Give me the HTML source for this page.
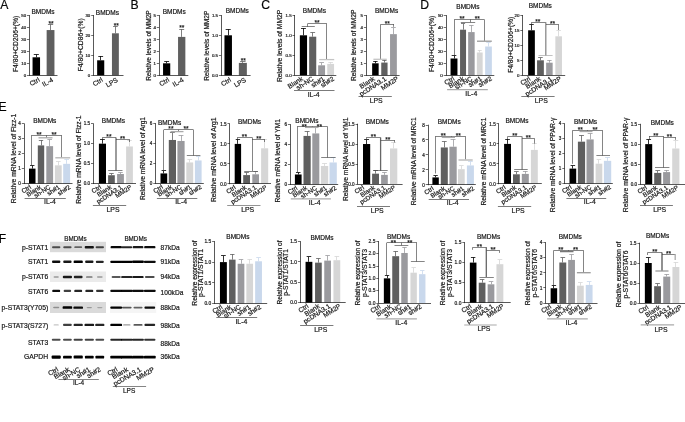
<!DOCTYPE html>
<html lang="en"><head><meta charset="utf-8"><title>Figure</title>
<style>
html,body{margin:0;padding:0;background:#fff;}
body{width:685px;height:422px;overflow:hidden;}
svg{display:block;font-family:"Liberation Sans",Arial,sans-serif;}
svg text{font-family:"Liberation Sans",Arial,sans-serif;stroke:#222;stroke-width:0.2px;}
</style></head><body>
<svg width="685" height="422" viewBox="0 0 685 422">
<defs><filter id="bl" x="-20%" y="-50%" width="140%" height="200%"><feGaussianBlur stdDeviation="0.6 0.45"/></filter></defs>
<rect width="685" height="422" fill="#fff"/>
<text x="0.2" y="8.8" font-size="12.2" text-anchor="start" fill="#000">A</text>
<text x="130.4" y="8.5" font-size="12.2" text-anchor="start" fill="#000">B</text>
<text x="261.3" y="8.8" font-size="12.2" text-anchor="start" fill="#000">C</text>
<text x="420.3" y="8.8" font-size="12.2" text-anchor="start" fill="#000">D</text>
<text x="-1.6" y="110.7" font-size="12.2" text-anchor="start" fill="#000">E</text>
<text x="-1.2" y="242.7" font-size="12.2" text-anchor="start" fill="#000">F</text>
<rect x="32.55" y="57.3" width="7.5" height="18" fill="#000"/>
<line x1="36.5" y1="57.3" x2="36.5" y2="54.54" stroke="#000" stroke-width="0.8"/>
<line x1="33.75" y1="54.5" x2="38.85" y2="54.5" stroke="#000" stroke-width="0.8"/>
<rect x="46.65" y="30.06" width="7.8" height="45.24" fill="#5f5f5f"/>
<line x1="50.5" y1="30.06" x2="50.5" y2="24.42" stroke="#5f5f5f" stroke-width="0.8"/>
<line x1="47.9" y1="24.5" x2="53.2" y2="24.5" stroke="#5f5f5f" stroke-width="0.8"/>
<line x1="29.5" y1="15" x2="29.5" y2="75.6" stroke="#111" stroke-width="0.7"/>
<line x1="29" y1="75.5" x2="57.5" y2="75.5" stroke="#111" stroke-width="0.7"/>
<line x1="27" y1="75.5" x2="29.3" y2="75.5" stroke="#111" stroke-width="0.6"/>
<text x="26.1" y="76.88" font-size="4.4" text-anchor="end" fill="#111" stroke-width="0.3">0</text>
<line x1="27" y1="63.5" x2="29.3" y2="63.5" stroke="#111" stroke-width="0.6"/>
<text x="26.1" y="64.88" font-size="4.4" text-anchor="end" fill="#111" stroke-width="0.3">10</text>
<line x1="27" y1="51.5" x2="29.3" y2="51.5" stroke="#111" stroke-width="0.6"/>
<text x="26.1" y="52.88" font-size="4.4" text-anchor="end" fill="#111" stroke-width="0.3">20</text>
<line x1="27" y1="39.5" x2="29.3" y2="39.5" stroke="#111" stroke-width="0.6"/>
<text x="26.1" y="40.88" font-size="4.4" text-anchor="end" fill="#111" stroke-width="0.3">30</text>
<line x1="27" y1="27.5" x2="29.3" y2="27.5" stroke="#111" stroke-width="0.6"/>
<text x="26.1" y="28.88" font-size="4.4" text-anchor="end" fill="#111" stroke-width="0.3">40</text>
<line x1="27" y1="15.5" x2="29.3" y2="15.5" stroke="#111" stroke-width="0.6"/>
<text x="26.1" y="16.88" font-size="4.4" text-anchor="end" fill="#111" stroke-width="0.3">50</text>
<text x="43" y="13.8" font-size="6.5" text-anchor="middle" fill="#111">BMDMs</text>
<text x="17.68" y="43.9" font-size="6.6" text-anchor="middle" fill="#111" transform="rotate(-90 17.68 43.9)" textLength="56.2" lengthAdjust="spacingAndGlyphs">F4/80+CD206+(%)</text>
<text x="40.2" y="81.1" font-size="6.7" text-anchor="end" fill="#111" transform="rotate(-30 40.2 81.1)">Ctrl</text>
<text x="53.8" y="81.1" font-size="6.7" text-anchor="end" fill="#111" transform="rotate(-30 53.8 81.1)">IL-4</text>
<text x="51" y="26.1" font-size="6.6" text-anchor="middle" fill="#111" stroke="#111" stroke-width="0.25">**</text>
<rect x="97.15" y="60.3" width="7.1" height="15" fill="#000"/>
<line x1="100.5" y1="60.3" x2="100.5" y2="56.1" stroke="#000" stroke-width="0.8"/>
<line x1="98.29" y1="56.5" x2="103.11" y2="56.5" stroke="#000" stroke-width="0.8"/>
<rect x="111.95" y="33.3" width="6.9" height="42" fill="#5f5f5f"/>
<line x1="115.5" y1="33.3" x2="115.5" y2="26.3" stroke="#5f5f5f" stroke-width="0.8"/>
<line x1="113.05" y1="26.5" x2="117.75" y2="26.5" stroke="#5f5f5f" stroke-width="0.8"/>
<line x1="93.5" y1="15" x2="93.5" y2="75.6" stroke="#111" stroke-width="0.7"/>
<line x1="93.2" y1="75.5" x2="123.5" y2="75.5" stroke="#111" stroke-width="0.7"/>
<line x1="91.2" y1="75.5" x2="93.5" y2="75.5" stroke="#111" stroke-width="0.6"/>
<text x="90.3" y="76.88" font-size="4.4" text-anchor="end" fill="#111" stroke-width="0.3">0</text>
<line x1="91.2" y1="55.5" x2="93.5" y2="55.5" stroke="#111" stroke-width="0.6"/>
<text x="90.3" y="56.88" font-size="4.4" text-anchor="end" fill="#111" stroke-width="0.3">10</text>
<line x1="91.2" y1="35.5" x2="93.5" y2="35.5" stroke="#111" stroke-width="0.6"/>
<text x="90.3" y="36.88" font-size="4.4" text-anchor="end" fill="#111" stroke-width="0.3">20</text>
<line x1="91.2" y1="15.5" x2="93.5" y2="15.5" stroke="#111" stroke-width="0.6"/>
<text x="90.3" y="16.88" font-size="4.4" text-anchor="end" fill="#111" stroke-width="0.3">30</text>
<text x="107.4" y="15.2" font-size="6.5" text-anchor="middle" fill="#111">BMDMs</text>
<text x="83.38" y="44.8" font-size="6.6" text-anchor="middle" fill="#111" transform="rotate(-90 83.38 44.8)" textLength="52.9" lengthAdjust="spacingAndGlyphs">F4/80+CD86+(%)</text>
<text x="103.4" y="81.1" font-size="6.7" text-anchor="end" fill="#111" transform="rotate(-31 103.4 81.1)">Ctrl</text>
<text x="118.4" y="81.1" font-size="6.7" text-anchor="end" fill="#111" transform="rotate(-31 118.4 81.1)">LPS</text>
<text x="116.2" y="28.3" font-size="6.6" text-anchor="middle" fill="#111" stroke="#111" stroke-width="0.25">**</text>
<rect x="163.05" y="63.3" width="7.2" height="12" fill="#000"/>
<line x1="166.5" y1="63.3" x2="166.5" y2="61.62" stroke="#000" stroke-width="0.8"/>
<line x1="164.2" y1="61.5" x2="169.1" y2="61.5" stroke="#000" stroke-width="0.8"/>
<rect x="178.05" y="36.9" width="7.3" height="38.4" fill="#5f5f5f"/>
<line x1="181.5" y1="36.9" x2="181.5" y2="29.1" stroke="#5f5f5f" stroke-width="0.8"/>
<line x1="179.22" y1="29.5" x2="184.18" y2="29.5" stroke="#5f5f5f" stroke-width="0.8"/>
<line x1="159.5" y1="15" x2="159.5" y2="75.6" stroke="#111" stroke-width="0.7"/>
<line x1="158.8" y1="75.5" x2="188.3" y2="75.5" stroke="#111" stroke-width="0.7"/>
<line x1="156.8" y1="75.5" x2="159.1" y2="75.5" stroke="#111" stroke-width="0.6"/>
<text x="155.9" y="76.88" font-size="4.4" text-anchor="end" fill="#111" stroke-width="0.3">0</text>
<line x1="156.8" y1="63.5" x2="159.1" y2="63.5" stroke="#111" stroke-width="0.6"/>
<text x="155.9" y="64.88" font-size="4.4" text-anchor="end" fill="#111" stroke-width="0.3">1</text>
<line x1="156.8" y1="51.5" x2="159.1" y2="51.5" stroke="#111" stroke-width="0.6"/>
<text x="155.9" y="52.88" font-size="4.4" text-anchor="end" fill="#111" stroke-width="0.3">2</text>
<line x1="156.8" y1="39.5" x2="159.1" y2="39.5" stroke="#111" stroke-width="0.6"/>
<text x="155.9" y="40.88" font-size="4.4" text-anchor="end" fill="#111" stroke-width="0.3">3</text>
<line x1="156.8" y1="27.5" x2="159.1" y2="27.5" stroke="#111" stroke-width="0.6"/>
<text x="155.9" y="28.88" font-size="4.4" text-anchor="end" fill="#111" stroke-width="0.3">4</text>
<line x1="156.8" y1="15.5" x2="159.1" y2="15.5" stroke="#111" stroke-width="0.6"/>
<text x="155.9" y="16.88" font-size="4.4" text-anchor="end" fill="#111" stroke-width="0.3">5</text>
<text x="174.2" y="13.5" font-size="6.5" text-anchor="middle" fill="#111">BMDMs</text>
<text x="150.64" y="45.55" font-size="6.5" text-anchor="middle" fill="#111" transform="rotate(-90 150.64 45.55)" textLength="70.5" lengthAdjust="spacingAndGlyphs">Relative levels of MM2P</text>
<text x="169.9" y="81.1" font-size="6.7" text-anchor="end" fill="#111" transform="rotate(-31 169.9 81.1)">Ctrl</text>
<text x="184.2" y="81.1" font-size="6.7" text-anchor="end" fill="#111" transform="rotate(-31 184.2 81.1)">IL-4</text>
<text x="181.8" y="30.1" font-size="6.6" text-anchor="middle" fill="#111" stroke="#111" stroke-width="0.25">**</text>
<rect x="224.45" y="35.3" width="7.5" height="40" fill="#000"/>
<line x1="228.5" y1="35.3" x2="228.5" y2="29.3" stroke="#000" stroke-width="0.8"/>
<line x1="225.65" y1="29.5" x2="230.75" y2="29.5" stroke="#000" stroke-width="0.8"/>
<rect x="238.85" y="62.9" width="8" height="12.4" fill="#5f5f5f"/>
<line x1="242.5" y1="62.9" x2="242.5" y2="61.5" stroke="#5f5f5f" stroke-width="0.8"/>
<line x1="240.13" y1="61.5" x2="245.57" y2="61.5" stroke="#5f5f5f" stroke-width="0.8"/>
<line x1="221.5" y1="15" x2="221.5" y2="75.6" stroke="#111" stroke-width="0.7"/>
<line x1="220.9" y1="75.5" x2="250.6" y2="75.5" stroke="#111" stroke-width="0.7"/>
<line x1="218.9" y1="75.5" x2="221.2" y2="75.5" stroke="#111" stroke-width="0.6"/>
<text x="218" y="76.88" font-size="4.4" text-anchor="end" fill="#111" stroke-width="0.3">0.0</text>
<line x1="218.9" y1="55.5" x2="221.2" y2="55.5" stroke="#111" stroke-width="0.6"/>
<text x="218" y="56.88" font-size="4.4" text-anchor="end" fill="#111" stroke-width="0.3">0.5</text>
<line x1="218.9" y1="35.5" x2="221.2" y2="35.5" stroke="#111" stroke-width="0.6"/>
<text x="218" y="36.88" font-size="4.4" text-anchor="end" fill="#111" stroke-width="0.3">1.0</text>
<line x1="218.9" y1="15.5" x2="221.2" y2="15.5" stroke="#111" stroke-width="0.6"/>
<text x="218" y="16.88" font-size="4.4" text-anchor="end" fill="#111" stroke-width="0.3">1.5</text>
<text x="237.3" y="13.4" font-size="6.5" text-anchor="middle" fill="#111">BMDMs</text>
<text x="208.54" y="45.75" font-size="6.5" text-anchor="middle" fill="#111" transform="rotate(-90 208.54 45.75)" textLength="70.1" lengthAdjust="spacingAndGlyphs">Relative levels of MM2P</text>
<text x="231.6" y="81.1" font-size="6.7" text-anchor="end" fill="#111" transform="rotate(-31 231.6 81.1)">Ctrl</text>
<text x="246.6" y="81.1" font-size="6.7" text-anchor="end" fill="#111" transform="rotate(-31 246.6 81.1)">LPS</text>
<text x="243.2" y="62.8" font-size="6.6" text-anchor="middle" fill="#111" stroke="#111" stroke-width="0.25">**</text>
<rect x="299.85" y="35.3" width="7.2" height="40" fill="#000"/>
<line x1="303.5" y1="35.3" x2="303.5" y2="28.1" stroke="#000" stroke-width="0.8"/>
<line x1="301" y1="28.5" x2="305.9" y2="28.5" stroke="#000" stroke-width="0.8"/>
<rect x="309.15" y="36.7" width="7.1" height="38.6" fill="#5f5f5f"/>
<line x1="312.5" y1="36.7" x2="312.5" y2="32.5" stroke="#5f5f5f" stroke-width="0.8"/>
<line x1="310.29" y1="32.5" x2="315.11" y2="32.5" stroke="#5f5f5f" stroke-width="0.8"/>
<rect x="318.15" y="65.3" width="6.9" height="10" fill="#9a9a9e"/>
<line x1="321.5" y1="65.3" x2="321.5" y2="62.9" stroke="#9a9a9e" stroke-width="0.8"/>
<line x1="319.25" y1="62.5" x2="323.95" y2="62.5" stroke="#9a9a9e" stroke-width="0.8"/>
<rect x="327.25" y="63.9" width="6.8" height="11.4" fill="#d6d6d6"/>
<line x1="330.5" y1="63.9" x2="330.5" y2="62.1" stroke="#d6d6d6" stroke-width="0.8"/>
<line x1="328.34" y1="62.5" x2="332.96" y2="62.5" stroke="#d6d6d6" stroke-width="0.8"/>
<line x1="294.5" y1="15" x2="294.5" y2="75.6" stroke="#111" stroke-width="0.7"/>
<line x1="294.5" y1="75.5" x2="336.3" y2="75.5" stroke="#111" stroke-width="0.7"/>
<line x1="292.5" y1="75.5" x2="294.8" y2="75.5" stroke="#111" stroke-width="0.6"/>
<text x="291.6" y="76.88" font-size="4.4" text-anchor="end" fill="#111" stroke-width="0.3">0.0</text>
<line x1="292.5" y1="55.5" x2="294.8" y2="55.5" stroke="#111" stroke-width="0.6"/>
<text x="291.6" y="56.88" font-size="4.4" text-anchor="end" fill="#111" stroke-width="0.3">0.5</text>
<line x1="292.5" y1="35.5" x2="294.8" y2="35.5" stroke="#111" stroke-width="0.6"/>
<text x="291.6" y="36.88" font-size="4.4" text-anchor="end" fill="#111" stroke-width="0.3">1.0</text>
<line x1="292.5" y1="15.5" x2="294.8" y2="15.5" stroke="#111" stroke-width="0.6"/>
<text x="291.6" y="16.88" font-size="4.4" text-anchor="end" fill="#111" stroke-width="0.3">1.5</text>
<text x="314.4" y="13.3" font-size="6.5" text-anchor="middle" fill="#111">BMDMs</text>
<text x="281.64" y="45.85" font-size="6.5" text-anchor="middle" fill="#111" transform="rotate(-90 281.64 45.85)" textLength="72.3" lengthAdjust="spacingAndGlyphs">Relative levels of MM2P</text>
<text x="303.5" y="79.9" font-size="6.7" text-anchor="end" fill="#111" transform="rotate(-33 303.5 79.9)">Blank</text>
<text x="314" y="79.9" font-size="6.7" text-anchor="end" fill="#111" transform="rotate(-33 314 79.9)">sh-NC</text>
<text x="325.2" y="79.9" font-size="6.7" text-anchor="end" fill="#111" transform="rotate(-33 325.2 79.9)">sh#1</text>
<text x="334.6" y="79.9" font-size="6.7" text-anchor="end" fill="#111" transform="rotate(-33 334.6 79.9)">sh#2</text>
<line x1="294" y1="90.5" x2="334.5" y2="90.5" stroke="#222" stroke-width="0.6"/>
<text x="313.6" y="96.5" font-size="6.9" text-anchor="middle" fill="#111">IL-4</text>
<line x1="307.8" y1="23.5" x2="326.7" y2="23.5" stroke="#333" stroke-width="0.6"/>
<text x="317" y="24.8" font-size="6.6" text-anchor="middle" fill="#111" stroke="#111" stroke-width="0.25">**</text>
<line x1="307.5" y1="23.5" x2="307.5" y2="26.6" stroke="#333" stroke-width="0.6"/>
<line x1="301.7" y1="26.5" x2="314.8" y2="26.5" stroke="#333" stroke-width="0.6"/>
<line x1="326.5" y1="23.5" x2="326.5" y2="59.6" stroke="#333" stroke-width="0.6"/>
<line x1="319.2" y1="59.6" x2="334.2" y2="59.6" stroke="#c4c4c4" stroke-width="1.3"/>
<rect x="372.15" y="63.3" width="6.5" height="12" fill="#000"/>
<line x1="375.5" y1="63.3" x2="375.5" y2="61.14" stroke="#000" stroke-width="0.8"/>
<line x1="373.19" y1="61.5" x2="377.61" y2="61.5" stroke="#000" stroke-width="0.8"/>
<rect x="381.25" y="62.58" width="6.3" height="12.72" fill="#5f5f5f"/>
<line x1="384.5" y1="62.58" x2="384.5" y2="60.06" stroke="#5f5f5f" stroke-width="0.8"/>
<line x1="382.26" y1="60.5" x2="386.54" y2="60.5" stroke="#5f5f5f" stroke-width="0.8"/>
<rect x="390.05" y="34.14" width="6.8" height="41.16" fill="#9a9a9e"/>
<line x1="393.5" y1="34.14" x2="393.5" y2="27.66" stroke="#9a9a9e" stroke-width="0.8"/>
<line x1="391.14" y1="27.5" x2="395.76" y2="27.5" stroke="#9a9a9e" stroke-width="0.8"/>
<line x1="366.5" y1="15" x2="366.5" y2="75.6" stroke="#111" stroke-width="0.7"/>
<line x1="365.9" y1="75.5" x2="399.6" y2="75.5" stroke="#111" stroke-width="0.7"/>
<line x1="363.9" y1="75.5" x2="366.2" y2="75.5" stroke="#111" stroke-width="0.6"/>
<text x="363" y="76.88" font-size="4.4" text-anchor="end" fill="#111" stroke-width="0.3">0</text>
<line x1="363.9" y1="63.5" x2="366.2" y2="63.5" stroke="#111" stroke-width="0.6"/>
<text x="363" y="64.88" font-size="4.4" text-anchor="end" fill="#111" stroke-width="0.3">1</text>
<line x1="363.9" y1="51.5" x2="366.2" y2="51.5" stroke="#111" stroke-width="0.6"/>
<text x="363" y="52.88" font-size="4.4" text-anchor="end" fill="#111" stroke-width="0.3">2</text>
<line x1="363.9" y1="39.5" x2="366.2" y2="39.5" stroke="#111" stroke-width="0.6"/>
<text x="363" y="40.88" font-size="4.4" text-anchor="end" fill="#111" stroke-width="0.3">3</text>
<line x1="363.9" y1="27.5" x2="366.2" y2="27.5" stroke="#111" stroke-width="0.6"/>
<text x="363" y="28.88" font-size="4.4" text-anchor="end" fill="#111" stroke-width="0.3">4</text>
<line x1="363.9" y1="15.5" x2="366.2" y2="15.5" stroke="#111" stroke-width="0.6"/>
<text x="363" y="16.88" font-size="4.4" text-anchor="end" fill="#111" stroke-width="0.3">5</text>
<text x="386.6" y="13.3" font-size="6.5" text-anchor="middle" fill="#111">BMDMs</text>
<text x="355.84" y="45.3" font-size="6.5" text-anchor="middle" fill="#111" transform="rotate(-90 355.84 45.3)" textLength="71.4" lengthAdjust="spacingAndGlyphs">Relative levels of MM2P</text>
<text x="375.4" y="79.9" font-size="6.7" text-anchor="end" fill="#111" transform="rotate(-33 375.4 79.9)">Blank</text>
<text x="386.8" y="79.9" font-size="6.7" text-anchor="end" fill="#111" transform="rotate(-33 386.8 79.9)">pcDNA3.1</text>
<text x="399" y="79.9" font-size="6.7" text-anchor="end" fill="#111" transform="rotate(-33 399 79.9)">MM2P</text>
<line x1="358.5" y1="96.5" x2="391.8" y2="96.5" stroke="#222" stroke-width="0.6"/>
<text x="376.2" y="103.3" font-size="6.9" text-anchor="middle" fill="#111">LPS</text>
<line x1="380.9" y1="24.5" x2="393.9" y2="24.5" stroke="#333" stroke-width="0.6"/>
<text x="387.2" y="25.8" font-size="6.6" text-anchor="middle" fill="#111" stroke="#111" stroke-width="0.25">**</text>
<line x1="380.5" y1="24.2" x2="380.5" y2="59.4" stroke="#333" stroke-width="0.6"/>
<line x1="373.4" y1="59.3" x2="386.8" y2="59.3" stroke="#c4c4c4" stroke-width="1.3"/>
<line x1="393.5" y1="24.2" x2="393.5" y2="26.8" stroke="#333" stroke-width="0.6"/>
<rect x="450.55" y="58.5" width="6.9" height="16.8" fill="#000"/>
<line x1="454.5" y1="58.5" x2="454.5" y2="55.5" stroke="#000" stroke-width="0.8"/>
<line x1="451.65" y1="55.5" x2="456.35" y2="55.5" stroke="#000" stroke-width="0.8"/>
<rect x="460.05" y="29.7" width="6" height="45.6" fill="#5f5f5f"/>
<line x1="463.5" y1="29.7" x2="463.5" y2="23.7" stroke="#5f5f5f" stroke-width="0.8"/>
<line x1="461.01" y1="23.5" x2="465.09" y2="23.5" stroke="#5f5f5f" stroke-width="0.8"/>
<rect x="468.15" y="32.1" width="6.5" height="43.2" fill="#9a9a9e"/>
<line x1="471.5" y1="32.1" x2="471.5" y2="25.5" stroke="#9a9a9e" stroke-width="0.8"/>
<line x1="469.19" y1="25.5" x2="473.61" y2="25.5" stroke="#9a9a9e" stroke-width="0.8"/>
<rect x="476.85" y="52.5" width="5.8" height="22.8" fill="#d6d6d6"/>
<line x1="479.5" y1="52.5" x2="479.5" y2="50.1" stroke="#d6d6d6" stroke-width="0.8"/>
<line x1="477.78" y1="50.5" x2="481.72" y2="50.5" stroke="#d6d6d6" stroke-width="0.8"/>
<rect x="485.15" y="46.5" width="6.7" height="28.8" fill="#c9d8ec"/>
<line x1="488.5" y1="46.5" x2="488.5" y2="42.54" stroke="#c9d8ec" stroke-width="0.8"/>
<line x1="486.22" y1="42.5" x2="490.78" y2="42.5" stroke="#c9d8ec" stroke-width="0.8"/>
<line x1="446.5" y1="15" x2="446.5" y2="75.6" stroke="#111" stroke-width="0.7"/>
<line x1="445.7" y1="75.5" x2="494.3" y2="75.5" stroke="#111" stroke-width="0.7"/>
<line x1="443.7" y1="75.5" x2="446" y2="75.5" stroke="#111" stroke-width="0.6"/>
<text x="442.8" y="76.88" font-size="4.4" text-anchor="end" fill="#111" stroke-width="0.3">0</text>
<line x1="443.7" y1="63.5" x2="446" y2="63.5" stroke="#111" stroke-width="0.6"/>
<text x="442.8" y="64.88" font-size="4.4" text-anchor="end" fill="#111" stroke-width="0.3">10</text>
<line x1="443.7" y1="51.5" x2="446" y2="51.5" stroke="#111" stroke-width="0.6"/>
<text x="442.8" y="52.88" font-size="4.4" text-anchor="end" fill="#111" stroke-width="0.3">20</text>
<line x1="443.7" y1="39.5" x2="446" y2="39.5" stroke="#111" stroke-width="0.6"/>
<text x="442.8" y="40.88" font-size="4.4" text-anchor="end" fill="#111" stroke-width="0.3">30</text>
<line x1="443.7" y1="27.5" x2="446" y2="27.5" stroke="#111" stroke-width="0.6"/>
<text x="442.8" y="28.88" font-size="4.4" text-anchor="end" fill="#111" stroke-width="0.3">40</text>
<line x1="443.7" y1="15.5" x2="446" y2="15.5" stroke="#111" stroke-width="0.6"/>
<text x="442.8" y="16.88" font-size="4.4" text-anchor="end" fill="#111" stroke-width="0.3">50</text>
<text x="467.9" y="8.8" font-size="6.5" text-anchor="middle" fill="#111">BMDMs</text>
<text x="433.68" y="43.85" font-size="6.6" text-anchor="middle" fill="#111" transform="rotate(-90 433.68 43.85)" textLength="56.3" lengthAdjust="spacingAndGlyphs">F4/80+CD206+(%)</text>
<text x="455" y="79.9" font-size="6.7" text-anchor="end" fill="#111" transform="rotate(-31 455 79.9)">Ctrl</text>
<text x="464.6" y="79.9" font-size="6.7" text-anchor="end" fill="#111" transform="rotate(-31 464.6 79.9)">Blank</text>
<text x="472.8" y="79.9" font-size="6.7" text-anchor="end" fill="#111" transform="rotate(-31 472.8 79.9)">sh-NC</text>
<text x="482.4" y="79.9" font-size="6.7" text-anchor="end" fill="#111" transform="rotate(-31 482.4 79.9)">sh#1</text>
<text x="492.4" y="79.9" font-size="6.7" text-anchor="end" fill="#111" transform="rotate(-31 492.4 79.9)">sh#2</text>
<line x1="447.1" y1="89.6" x2="487.8" y2="89.6" stroke="#aaa" stroke-width="1.2"/>
<text x="471.3" y="96" font-size="6.9" text-anchor="middle" fill="#111">IL-4</text>
<line x1="454.3" y1="19.5" x2="484.3" y2="19.5" stroke="#333" stroke-width="0.6"/>
<text x="462.1" y="21.3" font-size="6.6" text-anchor="middle" fill="#111" stroke="#111" stroke-width="0.25">**</text>
<text x="477.2" y="21.3" font-size="6.6" text-anchor="middle" fill="#111" stroke="#111" stroke-width="0.25">**</text>
<line x1="454.5" y1="19.5" x2="454.5" y2="55.5" stroke="#333" stroke-width="0.6"/>
<line x1="470.5" y1="19.5" x2="470.5" y2="22.2" stroke="#333" stroke-width="0.6"/>
<line x1="460.8" y1="22.5" x2="475.2" y2="22.5" stroke="#333" stroke-width="0.6"/>
<line x1="484.5" y1="19.5" x2="484.5" y2="40.9" stroke="#333" stroke-width="0.6"/>
<line x1="477" y1="41.2" x2="491.8" y2="41.2" stroke="#999" stroke-width="1.3"/>
<rect x="528.15" y="30.3" width="6.7" height="45" fill="#000"/>
<line x1="531.5" y1="30.3" x2="531.5" y2="24.3" stroke="#000" stroke-width="0.8"/>
<line x1="529.22" y1="24.5" x2="533.78" y2="24.5" stroke="#000" stroke-width="0.8"/>
<rect x="537.05" y="60.3" width="6.8" height="15" fill="#5f5f5f"/>
<line x1="540.5" y1="60.3" x2="540.5" y2="57.9" stroke="#5f5f5f" stroke-width="0.8"/>
<line x1="538.14" y1="57.5" x2="542.76" y2="57.5" stroke="#5f5f5f" stroke-width="0.8"/>
<rect x="546.15" y="62.7" width="6.5" height="12.6" fill="#9a9a9e"/>
<line x1="549.5" y1="62.7" x2="549.5" y2="60" stroke="#9a9a9e" stroke-width="0.8"/>
<line x1="547.19" y1="60.5" x2="551.61" y2="60.5" stroke="#9a9a9e" stroke-width="0.8"/>
<rect x="555.35" y="36.3" width="6.6" height="39" fill="#d6d6d6"/>
<line x1="558.5" y1="36.3" x2="558.5" y2="30.9" stroke="#d6d6d6" stroke-width="0.8"/>
<line x1="556.41" y1="30.5" x2="560.89" y2="30.5" stroke="#d6d6d6" stroke-width="0.8"/>
<line x1="522.5" y1="15" x2="522.5" y2="75.6" stroke="#111" stroke-width="0.7"/>
<line x1="522.3" y1="75.5" x2="565.2" y2="75.5" stroke="#111" stroke-width="0.7"/>
<line x1="520.3" y1="75.5" x2="522.6" y2="75.5" stroke="#111" stroke-width="0.6"/>
<text x="519.4" y="76.88" font-size="4.4" text-anchor="end" fill="#111" stroke-width="0.3">0</text>
<line x1="520.3" y1="60.5" x2="522.6" y2="60.5" stroke="#111" stroke-width="0.6"/>
<text x="519.4" y="61.88" font-size="4.4" text-anchor="end" fill="#111" stroke-width="0.3">5</text>
<line x1="520.3" y1="45.5" x2="522.6" y2="45.5" stroke="#111" stroke-width="0.6"/>
<text x="519.4" y="46.88" font-size="4.4" text-anchor="end" fill="#111" stroke-width="0.3">10</text>
<line x1="520.3" y1="30.5" x2="522.6" y2="30.5" stroke="#111" stroke-width="0.6"/>
<text x="519.4" y="31.88" font-size="4.4" text-anchor="end" fill="#111" stroke-width="0.3">15</text>
<line x1="520.3" y1="15.5" x2="522.6" y2="15.5" stroke="#111" stroke-width="0.6"/>
<text x="519.4" y="16.88" font-size="4.4" text-anchor="end" fill="#111" stroke-width="0.3">20</text>
<text x="540.3" y="8" font-size="6.5" text-anchor="middle" fill="#111">BMDMs</text>
<text x="512.78" y="44.75" font-size="6.6" text-anchor="middle" fill="#111" transform="rotate(-90 512.78 44.75)" textLength="56.1" lengthAdjust="spacingAndGlyphs">F4/80+CD206+(%)</text>
<text x="531" y="79.9" font-size="6.7" text-anchor="end" fill="#111" transform="rotate(-33 531 79.9)">Ctrl</text>
<text x="541.4" y="79.9" font-size="6.7" text-anchor="end" fill="#111" transform="rotate(-33 541.4 79.9)">Blank</text>
<text x="552.6" y="79.9" font-size="6.7" text-anchor="end" fill="#111" transform="rotate(-33 552.6 79.9)">pcDNA3.1</text>
<text x="561.9" y="79.9" font-size="6.7" text-anchor="end" fill="#111" transform="rotate(-33 561.9 79.9)">MM2P</text>
<line x1="521.3" y1="96.5" x2="554.6" y2="96.5" stroke="#222" stroke-width="0.6"/>
<text x="541.3" y="102.5" font-size="6.9" text-anchor="middle" fill="#111">LPS</text>
<line x1="531.7" y1="22.5" x2="546" y2="22.5" stroke="#333" stroke-width="0.6"/>
<text x="537.7" y="23.9" font-size="6.6" text-anchor="middle" fill="#111" stroke="#111" stroke-width="0.25">**</text>
<line x1="531.5" y1="22.2" x2="531.5" y2="24.8" stroke="#333" stroke-width="0.6"/>
<line x1="545.8" y1="22.2" x2="545.8" y2="55.5" stroke="#8a8a8a" stroke-width="1.3"/>
<line x1="538.5" y1="55.5" x2="552.6" y2="55.5" stroke="#999" stroke-width="0.6"/>
<line x1="546" y1="24.5" x2="558.5" y2="24.5" stroke="#333" stroke-width="0.6"/>
<text x="552.5" y="26.1" font-size="6.6" text-anchor="middle" fill="#111" stroke="#111" stroke-width="0.25">**</text>
<line x1="558.5" y1="24.2" x2="558.5" y2="30" stroke="#333" stroke-width="0.6"/>
<rect x="29" y="168.62" width="6.5" height="14.97" fill="#000"/>
<line x1="32.5" y1="168.62" x2="32.5" y2="165.63" stroke="#000" stroke-width="0.8"/>
<line x1="30.04" y1="165.5" x2="34.46" y2="165.5" stroke="#000" stroke-width="0.8"/>
<rect x="37.8" y="145.41" width="6.4" height="38.19" fill="#5f5f5f"/>
<line x1="41.5" y1="145.41" x2="41.5" y2="140.17" stroke="#5f5f5f" stroke-width="0.8"/>
<line x1="38.82" y1="140.5" x2="43.18" y2="140.5" stroke="#5f5f5f" stroke-width="0.8"/>
<rect x="46.3" y="146.16" width="6.8" height="37.44" fill="#9a9a9e"/>
<line x1="49.5" y1="146.16" x2="49.5" y2="139.42" stroke="#9a9a9e" stroke-width="0.8"/>
<line x1="47.39" y1="139.5" x2="52.01" y2="139.5" stroke="#9a9a9e" stroke-width="0.8"/>
<rect x="54.9" y="165.33" width="6.8" height="18.27" fill="#d6d6d6"/>
<line x1="58.5" y1="165.33" x2="58.5" y2="161.59" stroke="#d6d6d6" stroke-width="0.8"/>
<line x1="55.99" y1="161.5" x2="60.61" y2="161.5" stroke="#d6d6d6" stroke-width="0.8"/>
<rect x="63.2" y="163.83" width="6.9" height="19.77" fill="#c9d8ec"/>
<line x1="66.5" y1="163.83" x2="66.5" y2="159.34" stroke="#c9d8ec" stroke-width="0.8"/>
<line x1="64.3" y1="159.5" x2="69" y2="159.5" stroke="#c9d8ec" stroke-width="0.8"/>
<line x1="24.5" y1="123.4" x2="24.5" y2="183.9" stroke="#111" stroke-width="0.7"/>
<line x1="23.8" y1="183.5" x2="72.5" y2="183.5" stroke="#111" stroke-width="0.7"/>
<line x1="21.8" y1="183.5" x2="24.1" y2="183.5" stroke="#111" stroke-width="0.6"/>
<text x="20.9" y="185.26" font-size="4.6" text-anchor="end" fill="#111" stroke-width="0.3">0</text>
<line x1="21.8" y1="168.5" x2="24.1" y2="168.5" stroke="#111" stroke-width="0.6"/>
<text x="20.9" y="170.28" font-size="4.6" text-anchor="end" fill="#111" stroke-width="0.3">1</text>
<line x1="21.8" y1="153.5" x2="24.1" y2="153.5" stroke="#111" stroke-width="0.6"/>
<text x="20.9" y="155.31" font-size="4.6" text-anchor="end" fill="#111" stroke-width="0.3">2</text>
<line x1="21.8" y1="138.5" x2="24.1" y2="138.5" stroke="#111" stroke-width="0.6"/>
<text x="20.9" y="140.33" font-size="4.6" text-anchor="end" fill="#111" stroke-width="0.3">3</text>
<line x1="21.8" y1="123.5" x2="24.1" y2="123.5" stroke="#111" stroke-width="0.6"/>
<text x="20.9" y="125.36" font-size="4.6" text-anchor="end" fill="#111" stroke-width="0.3">4</text>
<text x="44.8" y="123.3" font-size="6.5" text-anchor="middle" fill="#111">BMDMs</text>
<text x="16.18" y="158.4" font-size="6.6" text-anchor="middle" fill="#111" transform="rotate(-90 16.18 158.4)" textLength="89.5" lengthAdjust="spacingAndGlyphs">Relative mRNA level of Fizz-1</text>
<text x="31.6" y="188.2" font-size="6.4" text-anchor="end" fill="#111" transform="rotate(-33 31.6 188.2)">Ctrl</text>
<text x="41.6" y="188.2" font-size="6.4" text-anchor="end" fill="#111" transform="rotate(-33 41.6 188.2)">Blank</text>
<text x="50.9" y="188.2" font-size="6.4" text-anchor="end" fill="#111" transform="rotate(-33 50.9 188.2)">sh-NC</text>
<text x="60.5" y="188.2" font-size="6.4" text-anchor="end" fill="#111" transform="rotate(-33 60.5 188.2)">sh#1</text>
<text x="71" y="188.2" font-size="6.4" text-anchor="end" fill="#111" transform="rotate(-33 71 188.2)">sh#2</text>
<line x1="24.6" y1="198.5" x2="65.8" y2="198.5" stroke="#222" stroke-width="0.6"/>
<text x="50" y="204.2" font-size="6.9" text-anchor="middle" fill="#111">IL-4</text>
<line x1="31.3" y1="135.5" x2="61.8" y2="135.5" stroke="#333" stroke-width="0.6"/>
<text x="39.1" y="137.1" font-size="6.6" text-anchor="middle" fill="#111" stroke="#111" stroke-width="0.25">**</text>
<text x="54" y="137.1" font-size="6.6" text-anchor="middle" fill="#111" stroke="#111" stroke-width="0.25">**</text>
<line x1="31.5" y1="135.4" x2="31.5" y2="165.4" stroke="#333" stroke-width="0.6"/>
<line x1="46.5" y1="135.4" x2="46.5" y2="138" stroke="#333" stroke-width="0.6"/>
<line x1="38.5" y1="137.8" x2="52.5" y2="137.8" stroke="#aaa" stroke-width="1.3"/>
<line x1="61.5" y1="135.4" x2="61.5" y2="157.5" stroke="#333" stroke-width="0.6"/>
<line x1="55.3" y1="157.8" x2="70.2" y2="157.8" stroke="#b4b4b4" stroke-width="1.3"/>
<rect x="98.9" y="143.67" width="7.1" height="39.93" fill="#000"/>
<line x1="102.5" y1="143.67" x2="102.5" y2="139.27" stroke="#000" stroke-width="0.8"/>
<line x1="100.04" y1="139.5" x2="104.86" y2="139.5" stroke="#000" stroke-width="0.8"/>
<rect x="108.1" y="175.21" width="6.7" height="8.39" fill="#5f5f5f"/>
<line x1="111.5" y1="175.21" x2="111.5" y2="173.62" stroke="#5f5f5f" stroke-width="0.8"/>
<line x1="109.17" y1="173.5" x2="113.73" y2="173.5" stroke="#5f5f5f" stroke-width="0.8"/>
<rect x="117.1" y="174.02" width="6.8" height="9.58" fill="#9a9a9e"/>
<line x1="120.5" y1="174.02" x2="120.5" y2="172.42" stroke="#9a9a9e" stroke-width="0.8"/>
<line x1="118.19" y1="172.5" x2="122.81" y2="172.5" stroke="#9a9a9e" stroke-width="0.8"/>
<rect x="126.1" y="146.46" width="6.8" height="37.14" fill="#d6d6d6"/>
<line x1="129.5" y1="146.46" x2="129.5" y2="140.07" stroke="#d6d6d6" stroke-width="0.8"/>
<line x1="127.19" y1="140.5" x2="131.81" y2="140.5" stroke="#d6d6d6" stroke-width="0.8"/>
<line x1="93.5" y1="123.4" x2="93.5" y2="183.9" stroke="#111" stroke-width="0.7"/>
<line x1="93" y1="183.5" x2="136" y2="183.5" stroke="#111" stroke-width="0.7"/>
<line x1="91" y1="183.5" x2="93.3" y2="183.5" stroke="#111" stroke-width="0.6"/>
<text x="90.1" y="185.26" font-size="4.6" text-anchor="end" fill="#111" stroke-width="0.3">0.0</text>
<line x1="91" y1="163.5" x2="93.3" y2="163.5" stroke="#111" stroke-width="0.6"/>
<text x="90.1" y="165.29" font-size="4.6" text-anchor="end" fill="#111" stroke-width="0.3">0.5</text>
<line x1="91" y1="143.5" x2="93.3" y2="143.5" stroke="#111" stroke-width="0.6"/>
<text x="90.1" y="145.32" font-size="4.6" text-anchor="end" fill="#111" stroke-width="0.3">1.0</text>
<line x1="91" y1="123.5" x2="93.3" y2="123.5" stroke="#111" stroke-width="0.6"/>
<text x="90.1" y="125.36" font-size="4.6" text-anchor="end" fill="#111" stroke-width="0.3">1.5</text>
<text x="113.4" y="123.3" font-size="6.5" text-anchor="middle" fill="#111">BMDMs</text>
<text x="81.28" y="159.6" font-size="6.6" text-anchor="middle" fill="#111" transform="rotate(-90 81.28 159.6)" textLength="88.4" lengthAdjust="spacingAndGlyphs">Relative mRNA level of Fizz-1</text>
<text x="101.7" y="188.2" font-size="6.4" text-anchor="end" fill="#111" transform="rotate(-33 101.7 188.2)">Ctrl</text>
<text x="112.2" y="188.2" font-size="6.4" text-anchor="end" fill="#111" transform="rotate(-33 112.2 188.2)">Blank</text>
<text x="122.7" y="188.2" font-size="6.4" text-anchor="end" fill="#111" transform="rotate(-33 122.7 188.2)">pcDNA3.1</text>
<text x="132.4" y="188.2" font-size="6.4" text-anchor="end" fill="#111" transform="rotate(-33 132.4 188.2)">MM2P</text>
<line x1="92.9" y1="205.5" x2="126.2" y2="205.5" stroke="#222" stroke-width="0.6"/>
<text x="113" y="211.8" font-size="6.9" text-anchor="middle" fill="#111">LPS</text>
<line x1="102.4" y1="137.5" x2="116" y2="137.5" stroke="#333" stroke-width="0.6"/>
<text x="108.9" y="139.1" font-size="6.6" text-anchor="middle" fill="#111" stroke="#111" stroke-width="0.25">**</text>
<line x1="102.5" y1="137.5" x2="102.5" y2="139.3" stroke="#333" stroke-width="0.6"/>
<line x1="116" y1="137.5" x2="116" y2="170.6" stroke="#666" stroke-width="1.3"/>
<line x1="108.2" y1="170.5" x2="122.5" y2="170.5" stroke="#333" stroke-width="0.6"/>
<line x1="116" y1="139.5" x2="129.5" y2="139.5" stroke="#333" stroke-width="0.6"/>
<text x="122.5" y="141.1" font-size="6.6" text-anchor="middle" fill="#111" stroke="#111" stroke-width="0.25">**</text>
<line x1="129.5" y1="139.3" x2="129.5" y2="142" stroke="#333" stroke-width="0.6"/>
<rect x="160.5" y="173.42" width="6.7" height="9.98" fill="#000"/>
<line x1="163.5" y1="173.42" x2="163.5" y2="170.92" stroke="#000" stroke-width="0.8"/>
<line x1="161.57" y1="170.5" x2="166.13" y2="170.5" stroke="#000" stroke-width="0.8"/>
<rect x="168.8" y="139.97" width="7.2" height="43.43" fill="#5f5f5f"/>
<line x1="172.5" y1="139.97" x2="172.5" y2="132.98" stroke="#5f5f5f" stroke-width="0.8"/>
<line x1="169.95" y1="132.5" x2="174.85" y2="132.5" stroke="#5f5f5f" stroke-width="0.8"/>
<rect x="177.4" y="140.97" width="7.2" height="42.43" fill="#9a9a9e"/>
<line x1="181.5" y1="140.97" x2="181.5" y2="135.48" stroke="#9a9a9e" stroke-width="0.8"/>
<line x1="178.55" y1="135.5" x2="183.45" y2="135.5" stroke="#9a9a9e" stroke-width="0.8"/>
<rect x="186.3" y="162.44" width="6.9" height="20.97" fill="#d6d6d6"/>
<line x1="189.5" y1="162.44" x2="189.5" y2="159.44" stroke="#d6d6d6" stroke-width="0.8"/>
<line x1="187.4" y1="159.5" x2="192.1" y2="159.5" stroke="#d6d6d6" stroke-width="0.8"/>
<rect x="194.9" y="160.44" width="6.7" height="22.96" fill="#c9d8ec"/>
<line x1="198.5" y1="160.44" x2="198.5" y2="156.94" stroke="#c9d8ec" stroke-width="0.8"/>
<line x1="195.97" y1="156.5" x2="200.53" y2="156.5" stroke="#c9d8ec" stroke-width="0.8"/>
<line x1="155.5" y1="123.2" x2="155.5" y2="183.7" stroke="#111" stroke-width="0.7"/>
<line x1="155.3" y1="183.5" x2="203.8" y2="183.5" stroke="#111" stroke-width="0.7"/>
<line x1="153.3" y1="183.5" x2="155.6" y2="183.5" stroke="#111" stroke-width="0.6"/>
<text x="152.4" y="185.06" font-size="4.6" text-anchor="end" fill="#111" stroke-width="0.3">0</text>
<line x1="153.3" y1="163.5" x2="155.6" y2="163.5" stroke="#111" stroke-width="0.6"/>
<text x="152.4" y="165.09" font-size="4.6" text-anchor="end" fill="#111" stroke-width="0.3">2</text>
<line x1="153.3" y1="143.5" x2="155.6" y2="143.5" stroke="#111" stroke-width="0.6"/>
<text x="152.4" y="145.12" font-size="4.6" text-anchor="end" fill="#111" stroke-width="0.3">4</text>
<line x1="153.3" y1="123.5" x2="155.6" y2="123.5" stroke="#111" stroke-width="0.6"/>
<text x="152.4" y="125.16" font-size="4.6" text-anchor="end" fill="#111" stroke-width="0.3">6</text>
<text x="169.6" y="125" font-size="6.5" text-anchor="middle" fill="#111">BMDMs</text>
<text x="145.28" y="158.5" font-size="6.6" text-anchor="middle" fill="#111" transform="rotate(-90 145.28 158.5)" textLength="83" lengthAdjust="spacingAndGlyphs">Relative mRNA level of Arg1</text>
<text x="163.4" y="188" font-size="6.4" text-anchor="end" fill="#111" transform="rotate(-33 163.4 188)">Ctrl</text>
<text x="172.7" y="188" font-size="6.4" text-anchor="end" fill="#111" transform="rotate(-33 172.7 188)">Blank</text>
<text x="182" y="188" font-size="6.4" text-anchor="end" fill="#111" transform="rotate(-33 182 188)">sh-NC</text>
<text x="192" y="188" font-size="6.4" text-anchor="end" fill="#111" transform="rotate(-33 192 188)">sh#1</text>
<text x="202.2" y="188" font-size="6.4" text-anchor="end" fill="#111" transform="rotate(-33 202.2 188)">sh#2</text>
<line x1="156.9" y1="198.5" x2="197.3" y2="198.5" stroke="#222" stroke-width="0.6"/>
<text x="181.1" y="204.2" font-size="6.9" text-anchor="middle" fill="#111">IL-4</text>
<line x1="163.9" y1="129.5" x2="193.3" y2="129.5" stroke="#333" stroke-width="0.6"/>
<text x="170.9" y="131.3" font-size="6.6" text-anchor="middle" fill="#111" stroke="#111" stroke-width="0.25">**</text>
<text x="186" y="131.3" font-size="6.6" text-anchor="middle" fill="#111" stroke="#111" stroke-width="0.25">**</text>
<line x1="163.5" y1="129.7" x2="163.5" y2="171.4" stroke="#333" stroke-width="0.6"/>
<line x1="178.5" y1="129.7" x2="178.5" y2="131.5" stroke="#333" stroke-width="0.6"/>
<line x1="170.5" y1="131.6" x2="183.5" y2="131.6" stroke="#aaa" stroke-width="1.3"/>
<line x1="193.5" y1="129.7" x2="193.5" y2="155.5" stroke="#333" stroke-width="0.6"/>
<line x1="186.8" y1="155.5" x2="200.4" y2="155.5" stroke="#333" stroke-width="0.6"/>
<rect x="234.7" y="143.9" width="6.4" height="40" fill="#000"/>
<line x1="237.5" y1="143.9" x2="237.5" y2="139.5" stroke="#000" stroke-width="0.8"/>
<line x1="235.72" y1="139.5" x2="240.08" y2="139.5" stroke="#000" stroke-width="0.8"/>
<rect x="243.2" y="175.1" width="6.8" height="8.8" fill="#5f5f5f"/>
<line x1="246.5" y1="175.1" x2="246.5" y2="172.7" stroke="#5f5f5f" stroke-width="0.8"/>
<line x1="244.29" y1="172.5" x2="248.91" y2="172.5" stroke="#5f5f5f" stroke-width="0.8"/>
<rect x="252.3" y="174.3" width="6.7" height="9.6" fill="#9a9a9e"/>
<line x1="255.5" y1="174.3" x2="255.5" y2="171.9" stroke="#9a9a9e" stroke-width="0.8"/>
<line x1="253.37" y1="171.5" x2="257.93" y2="171.5" stroke="#9a9a9e" stroke-width="0.8"/>
<rect x="261.1" y="148.3" width="7.1" height="35.6" fill="#d6d6d6"/>
<line x1="264.5" y1="148.3" x2="264.5" y2="139.9" stroke="#d6d6d6" stroke-width="0.8"/>
<line x1="262.24" y1="139.5" x2="267.06" y2="139.5" stroke="#d6d6d6" stroke-width="0.8"/>
<line x1="229.5" y1="123.6" x2="229.5" y2="184.2" stroke="#111" stroke-width="0.7"/>
<line x1="229.5" y1="183.5" x2="271" y2="183.5" stroke="#111" stroke-width="0.7"/>
<line x1="227.5" y1="183.5" x2="229.8" y2="183.5" stroke="#111" stroke-width="0.6"/>
<text x="226.6" y="185.56" font-size="4.6" text-anchor="end" fill="#111" stroke-width="0.3">0.0</text>
<line x1="227.5" y1="163.5" x2="229.8" y2="163.5" stroke="#111" stroke-width="0.6"/>
<text x="226.6" y="165.56" font-size="4.6" text-anchor="end" fill="#111" stroke-width="0.3">0.5</text>
<line x1="227.5" y1="143.5" x2="229.8" y2="143.5" stroke="#111" stroke-width="0.6"/>
<text x="226.6" y="145.56" font-size="4.6" text-anchor="end" fill="#111" stroke-width="0.3">1.0</text>
<line x1="227.5" y1="123.5" x2="229.8" y2="123.5" stroke="#111" stroke-width="0.6"/>
<text x="226.6" y="125.56" font-size="4.6" text-anchor="end" fill="#111" stroke-width="0.3">1.5</text>
<text x="249.5" y="124.1" font-size="6.5" text-anchor="middle" fill="#111">BMDMs</text>
<text x="215.58" y="159.75" font-size="6.6" text-anchor="middle" fill="#111" transform="rotate(-90 215.58 159.75)" textLength="84.5" lengthAdjust="spacingAndGlyphs">Relative mRNA level of Arg1</text>
<text x="236.3" y="188.5" font-size="6.4" text-anchor="end" fill="#111" transform="rotate(-33 236.3 188.5)">Ctrl</text>
<text x="247" y="188.5" font-size="6.4" text-anchor="end" fill="#111" transform="rotate(-33 247 188.5)">Blank</text>
<text x="257" y="188.5" font-size="6.4" text-anchor="end" fill="#111" transform="rotate(-33 257 188.5)">pcDNA3.1</text>
<text x="267.5" y="188.5" font-size="6.4" text-anchor="end" fill="#111" transform="rotate(-33 267.5 188.5)">MM2P</text>
<line x1="227.2" y1="205.5" x2="260.5" y2="205.5" stroke="#888" stroke-width="0.9"/>
<text x="247.7" y="212.1" font-size="6.9" text-anchor="middle" fill="#111">LPS</text>
<line x1="237.4" y1="137.5" x2="252.1" y2="137.5" stroke="#333" stroke-width="0.6"/>
<text x="244.4" y="138.8" font-size="6.6" text-anchor="middle" fill="#111" stroke="#111" stroke-width="0.25">**</text>
<line x1="237.5" y1="137.4" x2="237.5" y2="139.5" stroke="#333" stroke-width="0.6"/>
<line x1="252.5" y1="137.4" x2="252.5" y2="171" stroke="#333" stroke-width="0.6"/>
<line x1="244.2" y1="171.5" x2="257.9" y2="171.5" stroke="#333" stroke-width="0.6"/>
<line x1="252.1" y1="139.5" x2="264.9" y2="139.5" stroke="#333" stroke-width="0.6"/>
<text x="258.8" y="141.1" font-size="6.6" text-anchor="middle" fill="#111" stroke="#111" stroke-width="0.25">**</text>
<line x1="264.5" y1="139.5" x2="264.5" y2="142" stroke="#333" stroke-width="0.6"/>
<rect x="294.9" y="174.48" width="6.7" height="10.02" fill="#000"/>
<line x1="298.5" y1="174.48" x2="298.5" y2="172.48" stroke="#000" stroke-width="0.8"/>
<line x1="295.97" y1="172.5" x2="300.53" y2="172.5" stroke="#000" stroke-width="0.8"/>
<rect x="303.5" y="135.92" width="7.2" height="48.58" fill="#5f5f5f"/>
<line x1="307.5" y1="135.92" x2="307.5" y2="131.41" stroke="#5f5f5f" stroke-width="0.8"/>
<line x1="304.65" y1="131.5" x2="309.55" y2="131.5" stroke="#5f5f5f" stroke-width="0.8"/>
<rect x="312.3" y="133.42" width="7" height="51.08" fill="#9a9a9e"/>
<line x1="315.5" y1="133.42" x2="315.5" y2="127.41" stroke="#9a9a9e" stroke-width="0.8"/>
<line x1="313.42" y1="127.5" x2="318.18" y2="127.5" stroke="#9a9a9e" stroke-width="0.8"/>
<rect x="320.9" y="165.97" width="7.3" height="18.53" fill="#d6d6d6"/>
<line x1="324.5" y1="165.97" x2="324.5" y2="163.47" stroke="#d6d6d6" stroke-width="0.8"/>
<line x1="322.07" y1="163.5" x2="327.03" y2="163.5" stroke="#d6d6d6" stroke-width="0.8"/>
<rect x="329.5" y="162.46" width="7.3" height="22.04" fill="#c9d8ec"/>
<line x1="333.5" y1="162.46" x2="333.5" y2="157.96" stroke="#c9d8ec" stroke-width="0.8"/>
<line x1="330.67" y1="157.5" x2="335.63" y2="157.5" stroke="#c9d8ec" stroke-width="0.8"/>
<line x1="290.5" y1="124.1" x2="290.5" y2="184.8" stroke="#111" stroke-width="0.7"/>
<line x1="289.9" y1="184.5" x2="338.2" y2="184.5" stroke="#111" stroke-width="0.7"/>
<line x1="287.9" y1="184.5" x2="290.2" y2="184.5" stroke="#111" stroke-width="0.6"/>
<text x="287" y="186.16" font-size="4.6" text-anchor="end" fill="#111" stroke-width="0.3">0</text>
<line x1="287.9" y1="164.5" x2="290.2" y2="164.5" stroke="#111" stroke-width="0.6"/>
<text x="287" y="166.12" font-size="4.6" text-anchor="end" fill="#111" stroke-width="0.3">2</text>
<line x1="287.9" y1="144.5" x2="290.2" y2="144.5" stroke="#111" stroke-width="0.6"/>
<text x="287" y="146.09" font-size="4.6" text-anchor="end" fill="#111" stroke-width="0.3">4</text>
<line x1="287.9" y1="124.5" x2="290.2" y2="124.5" stroke="#111" stroke-width="0.6"/>
<text x="287" y="126.06" font-size="4.6" text-anchor="end" fill="#111" stroke-width="0.3">6</text>
<text x="306.9" y="123.3" font-size="6.5" text-anchor="middle" fill="#111">BMDMs</text>
<text x="280.18" y="160.75" font-size="6.6" text-anchor="middle" fill="#111" transform="rotate(-90 280.18 160.75)" textLength="83.5" lengthAdjust="spacingAndGlyphs">Relative mRNA level of YM1</text>
<text x="297.95" y="189.1" font-size="6.4" text-anchor="end" fill="#111" transform="rotate(-33 297.95 189.1)">Ctrl</text>
<text x="307.7" y="189.1" font-size="6.4" text-anchor="end" fill="#111" transform="rotate(-33 307.7 189.1)">Blank</text>
<text x="317.45" y="189.1" font-size="6.4" text-anchor="end" fill="#111" transform="rotate(-33 317.45 189.1)">sh-NC</text>
<text x="327.2" y="189.1" font-size="6.4" text-anchor="end" fill="#111" transform="rotate(-33 327.2 189.1)">sh#1</text>
<text x="336.95" y="189.1" font-size="6.4" text-anchor="end" fill="#111" transform="rotate(-33 336.95 189.1)">sh#2</text>
<line x1="290.8" y1="198.9" x2="330.9" y2="198.9" stroke="#aaa" stroke-width="1.2"/>
<text x="314.7" y="204.7" font-size="6.9" text-anchor="middle" fill="#111">IL-4</text>
<line x1="297.3" y1="126.5" x2="327.2" y2="126.5" stroke="#333" stroke-width="0.6"/>
<text x="304.3" y="128.6" font-size="6.6" text-anchor="middle" fill="#111" stroke="#111" stroke-width="0.25">**</text>
<text x="319.4" y="128.6" font-size="6.6" text-anchor="middle" fill="#111" stroke="#111" stroke-width="0.25">**</text>
<line x1="297.5" y1="126.3" x2="297.5" y2="172.4" stroke="#333" stroke-width="0.6"/>
<line x1="312.5" y1="126.3" x2="312.5" y2="127.3" stroke="#333" stroke-width="0.6"/>
<line x1="305" y1="127.4" x2="318.5" y2="127.4" stroke="#aaa" stroke-width="1.3"/>
<line x1="327.5" y1="126.3" x2="327.5" y2="157.5" stroke="#333" stroke-width="0.6"/>
<line x1="321.2" y1="157.5" x2="335.6" y2="157.5" stroke="#333" stroke-width="0.6"/>
<rect x="363" y="144.03" width="7.2" height="40.07" fill="#000"/>
<line x1="366.5" y1="144.03" x2="366.5" y2="139.63" stroke="#000" stroke-width="0.8"/>
<line x1="364.15" y1="139.5" x2="369.05" y2="139.5" stroke="#000" stroke-width="0.8"/>
<rect x="372.1" y="173.68" width="6.9" height="10.42" fill="#5f5f5f"/>
<line x1="375.5" y1="173.68" x2="375.5" y2="170.48" stroke="#5f5f5f" stroke-width="0.8"/>
<line x1="373.2" y1="170.5" x2="377.9" y2="170.5" stroke="#5f5f5f" stroke-width="0.8"/>
<rect x="381.1" y="174.88" width="6.7" height="9.22" fill="#9a9a9e"/>
<line x1="384.5" y1="174.88" x2="384.5" y2="172.48" stroke="#9a9a9e" stroke-width="0.8"/>
<line x1="382.17" y1="172.5" x2="386.73" y2="172.5" stroke="#9a9a9e" stroke-width="0.8"/>
<rect x="390" y="148.44" width="7.3" height="35.66" fill="#d6d6d6"/>
<line x1="393.5" y1="148.44" x2="393.5" y2="142.03" stroke="#d6d6d6" stroke-width="0.8"/>
<line x1="391.17" y1="142.5" x2="396.13" y2="142.5" stroke="#d6d6d6" stroke-width="0.8"/>
<line x1="357.5" y1="123.7" x2="357.5" y2="184.4" stroke="#111" stroke-width="0.7"/>
<line x1="357.5" y1="184.5" x2="402.6" y2="184.5" stroke="#111" stroke-width="0.7"/>
<line x1="355.5" y1="184.5" x2="357.8" y2="184.5" stroke="#111" stroke-width="0.6"/>
<text x="354.6" y="185.76" font-size="4.6" text-anchor="end" fill="#111" stroke-width="0.3">0.0</text>
<line x1="355.5" y1="164.5" x2="357.8" y2="164.5" stroke="#111" stroke-width="0.6"/>
<text x="354.6" y="165.72" font-size="4.6" text-anchor="end" fill="#111" stroke-width="0.3">0.5</text>
<line x1="355.5" y1="144.5" x2="357.8" y2="144.5" stroke="#111" stroke-width="0.6"/>
<text x="354.6" y="145.69" font-size="4.6" text-anchor="end" fill="#111" stroke-width="0.3">1.0</text>
<line x1="355.5" y1="124.5" x2="357.8" y2="124.5" stroke="#111" stroke-width="0.6"/>
<text x="354.6" y="125.66" font-size="4.6" text-anchor="end" fill="#111" stroke-width="0.3">1.5</text>
<text x="377.3" y="124" font-size="6.5" text-anchor="middle" fill="#111">BMDMs</text>
<text x="347.68" y="159.3" font-size="6.6" text-anchor="middle" fill="#111" transform="rotate(-90 347.68 159.3)" textLength="83.6" lengthAdjust="spacingAndGlyphs">Relative mRNA level of YM1</text>
<text x="364.6" y="188.7" font-size="6.4" text-anchor="end" fill="#111" transform="rotate(-33 364.6 188.7)">Ctrl</text>
<text x="375.4" y="188.7" font-size="6.4" text-anchor="end" fill="#111" transform="rotate(-33 375.4 188.7)">Blank</text>
<text x="386" y="188.7" font-size="6.4" text-anchor="end" fill="#111" transform="rotate(-33 386 188.7)">pcDNA3.1</text>
<text x="396.1" y="188.7" font-size="6.4" text-anchor="end" fill="#111" transform="rotate(-33 396.1 188.7)">MM2P</text>
<line x1="357" y1="206.5" x2="390" y2="206.5" stroke="#222" stroke-width="0.6"/>
<text x="377.2" y="213" font-size="6.9" text-anchor="middle" fill="#111">LPS</text>
<line x1="366.3" y1="137.5" x2="380.7" y2="137.5" stroke="#333" stroke-width="0.6"/>
<text x="373.4" y="139.1" font-size="6.6" text-anchor="middle" fill="#111" stroke="#111" stroke-width="0.25">**</text>
<line x1="366.5" y1="137.5" x2="366.5" y2="139.8" stroke="#333" stroke-width="0.6"/>
<line x1="380.6" y1="137.5" x2="380.6" y2="170.6" stroke="#666" stroke-width="1.3"/>
<line x1="373.4" y1="170.5" x2="387.7" y2="170.5" stroke="#333" stroke-width="0.6"/>
<line x1="380.7" y1="140.5" x2="394.5" y2="140.5" stroke="#333" stroke-width="0.6"/>
<text x="387.7" y="141.5" font-size="6.6" text-anchor="middle" fill="#111" stroke="#111" stroke-width="0.25">**</text>
<line x1="394.5" y1="140" x2="394.5" y2="142.5" stroke="#333" stroke-width="0.6"/>
<rect x="432.4" y="177.41" width="6.4" height="7.49" fill="#000"/>
<line x1="435.5" y1="177.41" x2="435.5" y2="175.91" stroke="#000" stroke-width="0.8"/>
<line x1="433.42" y1="175.5" x2="437.78" y2="175.5" stroke="#000" stroke-width="0.8"/>
<rect x="440.8" y="147.46" width="7" height="37.44" fill="#5f5f5f"/>
<line x1="444.5" y1="147.46" x2="444.5" y2="141.47" stroke="#5f5f5f" stroke-width="0.8"/>
<line x1="441.92" y1="141.5" x2="446.68" y2="141.5" stroke="#5f5f5f" stroke-width="0.8"/>
<rect x="449.4" y="146.71" width="7.3" height="38.19" fill="#9a9a9e"/>
<line x1="453.5" y1="146.71" x2="453.5" y2="139.23" stroke="#9a9a9e" stroke-width="0.8"/>
<line x1="450.57" y1="139.5" x2="455.53" y2="139.5" stroke="#9a9a9e" stroke-width="0.8"/>
<rect x="458" y="169.18" width="6.7" height="15.72" fill="#d6d6d6"/>
<line x1="461.5" y1="169.18" x2="461.5" y2="165.81" stroke="#d6d6d6" stroke-width="0.8"/>
<line x1="459.07" y1="165.5" x2="463.63" y2="165.5" stroke="#d6d6d6" stroke-width="0.8"/>
<rect x="466.9" y="165.43" width="7" height="19.47" fill="#c9d8ec"/>
<line x1="470.5" y1="165.43" x2="470.5" y2="161.31" stroke="#c9d8ec" stroke-width="0.8"/>
<line x1="468.02" y1="161.5" x2="472.78" y2="161.5" stroke="#c9d8ec" stroke-width="0.8"/>
<line x1="428.5" y1="124.7" x2="428.5" y2="185.2" stroke="#111" stroke-width="0.7"/>
<line x1="427.7" y1="184.5" x2="475.8" y2="184.5" stroke="#111" stroke-width="0.7"/>
<line x1="425.7" y1="184.5" x2="428" y2="184.5" stroke="#111" stroke-width="0.6"/>
<text x="424.8" y="186.56" font-size="4.6" text-anchor="end" fill="#111" stroke-width="0.3">0</text>
<line x1="425.7" y1="169.5" x2="428" y2="169.5" stroke="#111" stroke-width="0.6"/>
<text x="424.8" y="171.58" font-size="4.6" text-anchor="end" fill="#111" stroke-width="0.3">2</text>
<line x1="425.7" y1="154.5" x2="428" y2="154.5" stroke="#111" stroke-width="0.6"/>
<text x="424.8" y="156.61" font-size="4.6" text-anchor="end" fill="#111" stroke-width="0.3">4</text>
<line x1="425.7" y1="139.5" x2="428" y2="139.5" stroke="#111" stroke-width="0.6"/>
<text x="424.8" y="141.63" font-size="4.6" text-anchor="end" fill="#111" stroke-width="0.3">6</text>
<line x1="425.7" y1="125.5" x2="428" y2="125.5" stroke="#111" stroke-width="0.6"/>
<text x="424.8" y="126.66" font-size="4.6" text-anchor="end" fill="#111" stroke-width="0.3">8</text>
<text x="449.2" y="124" font-size="6.5" text-anchor="middle" fill="#111">BMDMs</text>
<text x="415.98" y="161.3" font-size="6.6" text-anchor="middle" fill="#111" transform="rotate(-90 415.98 161.3)" textLength="87.7" lengthAdjust="spacingAndGlyphs">Relative mRNA level of MRC1</text>
<text x="434.3" y="189.5" font-size="6.4" text-anchor="end" fill="#111" transform="rotate(-33 434.3 189.5)">Ctrl</text>
<text x="445.7" y="189.5" font-size="6.4" text-anchor="end" fill="#111" transform="rotate(-33 445.7 189.5)">Blank</text>
<text x="455" y="189.5" font-size="6.4" text-anchor="end" fill="#111" transform="rotate(-33 455 189.5)">sh-NC</text>
<text x="464.6" y="189.5" font-size="6.4" text-anchor="end" fill="#111" transform="rotate(-33 464.6 189.5)">sh#1</text>
<text x="474.8" y="189.5" font-size="6.4" text-anchor="end" fill="#111" transform="rotate(-33 474.8 189.5)">sh#2</text>
<line x1="428.7" y1="199.5" x2="469" y2="199.5" stroke="#222" stroke-width="0.6"/>
<text x="452.7" y="205.1" font-size="6.9" text-anchor="middle" fill="#111">IL-4</text>
<line x1="435.4" y1="136.5" x2="465.4" y2="136.5" stroke="#333" stroke-width="0.6"/>
<text x="443.2" y="137.8" font-size="6.6" text-anchor="middle" fill="#111" stroke="#111" stroke-width="0.25">**</text>
<text x="458.3" y="137.8" font-size="6.6" text-anchor="middle" fill="#111" stroke="#111" stroke-width="0.25">**</text>
<line x1="435.5" y1="136.2" x2="435.5" y2="173.5" stroke="#333" stroke-width="0.6"/>
<line x1="451.5" y1="136.2" x2="451.5" y2="137.2" stroke="#333" stroke-width="0.6"/>
<line x1="441.8" y1="137.4" x2="455" y2="137.4" stroke="#aaa" stroke-width="1.3"/>
<line x1="465.5" y1="136.2" x2="465.5" y2="159.4" stroke="#333" stroke-width="0.6"/>
<line x1="458.5" y1="160" x2="472.7" y2="160" stroke="#b4b4b4" stroke-width="1.3"/>
<rect x="504.1" y="143.9" width="6.9" height="40" fill="#000"/>
<line x1="507.5" y1="143.9" x2="507.5" y2="139.1" stroke="#000" stroke-width="0.8"/>
<line x1="505.2" y1="139.5" x2="509.9" y2="139.5" stroke="#000" stroke-width="0.8"/>
<rect x="513" y="174.3" width="6.8" height="9.6" fill="#5f5f5f"/>
<line x1="516.5" y1="174.3" x2="516.5" y2="171.9" stroke="#5f5f5f" stroke-width="0.8"/>
<line x1="514.09" y1="171.5" x2="518.71" y2="171.5" stroke="#5f5f5f" stroke-width="0.8"/>
<rect x="521.8" y="173.9" width="7" height="10" fill="#9a9a9e"/>
<line x1="525.5" y1="173.9" x2="525.5" y2="171.1" stroke="#9a9a9e" stroke-width="0.8"/>
<line x1="522.92" y1="171.5" x2="527.68" y2="171.5" stroke="#9a9a9e" stroke-width="0.8"/>
<rect x="530.9" y="149.9" width="6.9" height="34" fill="#d6d6d6"/>
<line x1="534.5" y1="149.9" x2="534.5" y2="143.9" stroke="#d6d6d6" stroke-width="0.8"/>
<line x1="532" y1="143.5" x2="536.7" y2="143.5" stroke="#d6d6d6" stroke-width="0.8"/>
<line x1="498.5" y1="123.6" x2="498.5" y2="184.2" stroke="#111" stroke-width="0.7"/>
<line x1="498.6" y1="183.5" x2="541.8" y2="183.5" stroke="#111" stroke-width="0.7"/>
<line x1="496.6" y1="183.5" x2="498.9" y2="183.5" stroke="#111" stroke-width="0.6"/>
<text x="495.7" y="185.56" font-size="4.6" text-anchor="end" fill="#111" stroke-width="0.3">0.0</text>
<line x1="496.6" y1="163.5" x2="498.9" y2="163.5" stroke="#111" stroke-width="0.6"/>
<text x="495.7" y="165.56" font-size="4.6" text-anchor="end" fill="#111" stroke-width="0.3">0.5</text>
<line x1="496.6" y1="143.5" x2="498.9" y2="143.5" stroke="#111" stroke-width="0.6"/>
<text x="495.7" y="145.56" font-size="4.6" text-anchor="end" fill="#111" stroke-width="0.3">1.0</text>
<line x1="496.6" y1="123.5" x2="498.9" y2="123.5" stroke="#111" stroke-width="0.6"/>
<text x="495.7" y="125.56" font-size="4.6" text-anchor="end" fill="#111" stroke-width="0.3">1.5</text>
<text x="517" y="123.3" font-size="6.5" text-anchor="middle" fill="#111">BMDMs</text>
<text x="485.78" y="161.5" font-size="6.6" text-anchor="middle" fill="#111" transform="rotate(-90 485.78 161.5)" textLength="88" lengthAdjust="spacingAndGlyphs">Relative mRNA level of MRC1</text>
<text x="506.1" y="188.5" font-size="6.4" text-anchor="end" fill="#111" transform="rotate(-33 506.1 188.5)">Ctrl</text>
<text x="516.7" y="188.5" font-size="6.4" text-anchor="end" fill="#111" transform="rotate(-33 516.7 188.5)">Blank</text>
<text x="527.2" y="188.5" font-size="6.4" text-anchor="end" fill="#111" transform="rotate(-33 527.2 188.5)">pcDNA3.1</text>
<text x="537.4" y="188.5" font-size="6.4" text-anchor="end" fill="#111" transform="rotate(-33 537.4 188.5)">MM2P</text>
<line x1="497.9" y1="206.5" x2="531.2" y2="206.5" stroke="#222" stroke-width="0.6"/>
<text x="518.1" y="213" font-size="6.9" text-anchor="middle" fill="#111">LPS</text>
<line x1="507.6" y1="136.5" x2="522.1" y2="136.5" stroke="#333" stroke-width="0.6"/>
<text x="514.8" y="138" font-size="6.6" text-anchor="middle" fill="#111" stroke="#111" stroke-width="0.25">**</text>
<line x1="507.5" y1="136.5" x2="507.5" y2="139.3" stroke="#333" stroke-width="0.6"/>
<line x1="522.1" y1="136.5" x2="522.1" y2="169.6" stroke="#888" stroke-width="1.3"/>
<line x1="514.2" y1="169.5" x2="527.7" y2="169.5" stroke="#333" stroke-width="0.6"/>
<line x1="522.1" y1="138.5" x2="534.6" y2="138.5" stroke="#333" stroke-width="0.6"/>
<text x="528.3" y="140.3" font-size="6.6" text-anchor="middle" fill="#111" stroke="#111" stroke-width="0.25">**</text>
<line x1="534.5" y1="138.5" x2="534.5" y2="143.7" stroke="#333" stroke-width="0.6"/>
<rect x="569.5" y="168.62" width="6.7" height="14.97" fill="#000"/>
<line x1="572.5" y1="168.62" x2="572.5" y2="165.63" stroke="#000" stroke-width="0.8"/>
<line x1="570.57" y1="165.5" x2="575.13" y2="165.5" stroke="#000" stroke-width="0.8"/>
<rect x="577.9" y="141.67" width="7.2" height="41.93" fill="#5f5f5f"/>
<line x1="581.5" y1="141.67" x2="581.5" y2="135.38" stroke="#5f5f5f" stroke-width="0.8"/>
<line x1="579.05" y1="135.5" x2="583.95" y2="135.5" stroke="#5f5f5f" stroke-width="0.8"/>
<rect x="586.5" y="139.42" width="7.2" height="44.18" fill="#9a9a9e"/>
<line x1="590.5" y1="139.42" x2="590.5" y2="133.43" stroke="#9a9a9e" stroke-width="0.8"/>
<line x1="587.65" y1="133.5" x2="592.55" y2="133.5" stroke="#9a9a9e" stroke-width="0.8"/>
<rect x="595.6" y="163.68" width="6.7" height="19.92" fill="#d6d6d6"/>
<line x1="598.5" y1="163.68" x2="598.5" y2="159.64" stroke="#d6d6d6" stroke-width="0.8"/>
<line x1="596.67" y1="159.5" x2="601.23" y2="159.5" stroke="#d6d6d6" stroke-width="0.8"/>
<rect x="603.9" y="160.84" width="7.3" height="22.76" fill="#c9d8ec"/>
<line x1="607.5" y1="160.84" x2="607.5" y2="157.39" stroke="#c9d8ec" stroke-width="0.8"/>
<line x1="605.07" y1="157.5" x2="610.03" y2="157.5" stroke="#c9d8ec" stroke-width="0.8"/>
<line x1="564.5" y1="123.4" x2="564.5" y2="183.9" stroke="#111" stroke-width="0.7"/>
<line x1="564.3" y1="183.5" x2="612.8" y2="183.5" stroke="#111" stroke-width="0.7"/>
<line x1="562.3" y1="183.5" x2="564.6" y2="183.5" stroke="#111" stroke-width="0.6"/>
<text x="561.4" y="185.26" font-size="4.6" text-anchor="end" fill="#111" stroke-width="0.3">0</text>
<line x1="562.3" y1="168.5" x2="564.6" y2="168.5" stroke="#111" stroke-width="0.6"/>
<text x="561.4" y="170.28" font-size="4.6" text-anchor="end" fill="#111" stroke-width="0.3">1</text>
<line x1="562.3" y1="153.5" x2="564.6" y2="153.5" stroke="#111" stroke-width="0.6"/>
<text x="561.4" y="155.31" font-size="4.6" text-anchor="end" fill="#111" stroke-width="0.3">2</text>
<line x1="562.3" y1="138.5" x2="564.6" y2="138.5" stroke="#111" stroke-width="0.6"/>
<text x="561.4" y="140.33" font-size="4.6" text-anchor="end" fill="#111" stroke-width="0.3">3</text>
<line x1="562.3" y1="123.5" x2="564.6" y2="123.5" stroke="#111" stroke-width="0.6"/>
<text x="561.4" y="125.36" font-size="4.6" text-anchor="end" fill="#111" stroke-width="0.3">4</text>
<text x="585.5" y="124" font-size="6.5" text-anchor="middle" fill="#111">BMDMs</text>
<text x="554.88" y="164.9" font-size="6.6" text-anchor="middle" fill="#111" transform="rotate(-90 554.88 164.9)" textLength="94.7" lengthAdjust="spacingAndGlyphs">Relative mRNA level of PPAR-γ</text>
<text x="572.1" y="188.2" font-size="6.4" text-anchor="end" fill="#111" transform="rotate(-33 572.1 188.2)">Ctrl</text>
<text x="582.1" y="188.2" font-size="6.4" text-anchor="end" fill="#111" transform="rotate(-33 582.1 188.2)">Blank</text>
<text x="591.8" y="188.2" font-size="6.4" text-anchor="end" fill="#111" transform="rotate(-33 591.8 188.2)">sh-NC</text>
<text x="601.5" y="188.2" font-size="6.4" text-anchor="end" fill="#111" transform="rotate(-33 601.5 188.2)">sh#1</text>
<text x="611.5" y="188.2" font-size="6.4" text-anchor="end" fill="#111" transform="rotate(-33 611.5 188.2)">sh#2</text>
<line x1="566.4" y1="198.5" x2="606.2" y2="198.5" stroke="#222" stroke-width="0.6"/>
<text x="589.8" y="204.2" font-size="6.9" text-anchor="middle" fill="#111">IL-4</text>
<line x1="572.9" y1="130.5" x2="602.4" y2="130.5" stroke="#333" stroke-width="0.6"/>
<text x="580.2" y="131.8" font-size="6.6" text-anchor="middle" fill="#111" stroke="#111" stroke-width="0.25">**</text>
<text x="595.1" y="131.8" font-size="6.6" text-anchor="middle" fill="#111" stroke="#111" stroke-width="0.25">**</text>
<line x1="572.5" y1="130.2" x2="572.5" y2="163.8" stroke="#333" stroke-width="0.6"/>
<line x1="587.5" y1="130.2" x2="587.5" y2="131.3" stroke="#333" stroke-width="0.6"/>
<line x1="579.5" y1="131.5" x2="592.5" y2="131.5" stroke="#aaa" stroke-width="1.3"/>
<line x1="602.5" y1="130.2" x2="602.5" y2="155.5" stroke="#333" stroke-width="0.6"/>
<line x1="596.4" y1="155.5" x2="610" y2="155.5" stroke="#333" stroke-width="0.6"/>
<rect x="645.2" y="144.1" width="7" height="40" fill="#000"/>
<line x1="648.5" y1="144.1" x2="648.5" y2="139.7" stroke="#000" stroke-width="0.8"/>
<line x1="646.32" y1="139.5" x2="651.08" y2="139.5" stroke="#000" stroke-width="0.8"/>
<rect x="654.2" y="172.9" width="7.1" height="11.2" fill="#5f5f5f"/>
<line x1="657.5" y1="172.9" x2="657.5" y2="170.9" stroke="#5f5f5f" stroke-width="0.8"/>
<line x1="655.34" y1="170.5" x2="660.16" y2="170.5" stroke="#5f5f5f" stroke-width="0.8"/>
<rect x="663.1" y="172.1" width="7" height="12" fill="#9a9a9e"/>
<line x1="666.5" y1="172.1" x2="666.5" y2="170.1" stroke="#9a9a9e" stroke-width="0.8"/>
<line x1="664.22" y1="170.5" x2="668.98" y2="170.5" stroke="#9a9a9e" stroke-width="0.8"/>
<rect x="672.2" y="148.5" width="7.2" height="35.6" fill="#d6d6d6"/>
<line x1="675.5" y1="148.5" x2="675.5" y2="140.1" stroke="#d6d6d6" stroke-width="0.8"/>
<line x1="673.35" y1="140.5" x2="678.25" y2="140.5" stroke="#d6d6d6" stroke-width="0.8"/>
<line x1="640.5" y1="123.8" x2="640.5" y2="184.4" stroke="#111" stroke-width="0.7"/>
<line x1="640" y1="184.5" x2="685" y2="184.5" stroke="#111" stroke-width="0.7"/>
<line x1="638" y1="184.5" x2="640.3" y2="184.5" stroke="#111" stroke-width="0.6"/>
<text x="637.1" y="185.76" font-size="4.6" text-anchor="end" fill="#111" stroke-width="0.3">0.0</text>
<line x1="638" y1="164.5" x2="640.3" y2="164.5" stroke="#111" stroke-width="0.6"/>
<text x="637.1" y="165.76" font-size="4.6" text-anchor="end" fill="#111" stroke-width="0.3">0.5</text>
<line x1="638" y1="144.5" x2="640.3" y2="144.5" stroke="#111" stroke-width="0.6"/>
<text x="637.1" y="145.76" font-size="4.6" text-anchor="end" fill="#111" stroke-width="0.3">1.0</text>
<line x1="638" y1="124.5" x2="640.3" y2="124.5" stroke="#111" stroke-width="0.6"/>
<text x="637.1" y="125.76" font-size="4.6" text-anchor="end" fill="#111" stroke-width="0.3">1.5</text>
<text x="662.3" y="124.7" font-size="6.5" text-anchor="middle" fill="#111">BMDMs</text>
<text x="627.78" y="164.85" font-size="6.6" text-anchor="middle" fill="#111" transform="rotate(-90 627.78 164.85)" textLength="94.7" lengthAdjust="spacingAndGlyphs">Relative mRNA level of PPAR-γ</text>
<text x="647.5" y="188.7" font-size="6.4" text-anchor="end" fill="#111" transform="rotate(-33 647.5 188.7)">Ctrl</text>
<text x="658" y="188.7" font-size="6.4" text-anchor="end" fill="#111" transform="rotate(-33 658 188.7)">Blank</text>
<text x="668.5" y="188.7" font-size="6.4" text-anchor="end" fill="#111" transform="rotate(-33 668.5 188.7)">pcDNA3.1</text>
<text x="679" y="188.7" font-size="6.4" text-anchor="end" fill="#111" transform="rotate(-33 679 188.7)">MM2P</text>
<line x1="640" y1="205.5" x2="672.9" y2="205.5" stroke="#222" stroke-width="0.6"/>
<text x="659.7" y="211.8" font-size="6.9" text-anchor="middle" fill="#111">LPS</text>
<line x1="649" y1="136.5" x2="663.6" y2="136.5" stroke="#333" stroke-width="0.6"/>
<text x="655.8" y="137.8" font-size="6.6" text-anchor="middle" fill="#111" stroke="#111" stroke-width="0.25">**</text>
<line x1="649.5" y1="136.2" x2="649.5" y2="139.3" stroke="#333" stroke-width="0.6"/>
<line x1="663.5" y1="136.2" x2="663.5" y2="167.5" stroke="#333" stroke-width="0.6"/>
<line x1="655" y1="167.5" x2="669.4" y2="167.5" stroke="#333" stroke-width="0.6"/>
<line x1="663.6" y1="137.5" x2="675.9" y2="137.5" stroke="#333" stroke-width="0.6"/>
<text x="669.4" y="139.3" font-size="6.6" text-anchor="middle" fill="#111" stroke="#111" stroke-width="0.25">**</text>
<line x1="675.5" y1="137.5" x2="675.5" y2="139.8" stroke="#333" stroke-width="0.6"/>
<rect x="219.95" y="262.1" width="6.9" height="41.4" fill="#000"/>
<line x1="223.5" y1="262.1" x2="223.5" y2="255.89" stroke="#000" stroke-width="0.8"/>
<line x1="221.05" y1="255.5" x2="225.75" y2="255.5" stroke="#000" stroke-width="0.8"/>
<rect x="229.05" y="259.62" width="6.5" height="43.88" fill="#5f5f5f"/>
<line x1="232.5" y1="259.62" x2="232.5" y2="254.23" stroke="#5f5f5f" stroke-width="0.8"/>
<line x1="230.09" y1="254.5" x2="234.51" y2="254.5" stroke="#5f5f5f" stroke-width="0.8"/>
<rect x="237.65" y="263.76" width="6.7" height="39.74" fill="#9a9a9e"/>
<line x1="241.5" y1="263.76" x2="241.5" y2="259.62" stroke="#9a9a9e" stroke-width="0.8"/>
<line x1="238.72" y1="259.5" x2="243.28" y2="259.5" stroke="#9a9a9e" stroke-width="0.8"/>
<rect x="246.35" y="263.76" width="6.7" height="39.74" fill="#d6d6d6"/>
<line x1="249.5" y1="263.76" x2="249.5" y2="259.2" stroke="#d6d6d6" stroke-width="0.8"/>
<line x1="247.42" y1="259.5" x2="251.98" y2="259.5" stroke="#d6d6d6" stroke-width="0.8"/>
<rect x="255.15" y="261.27" width="6.8" height="42.23" fill="#c9d8ec"/>
<line x1="258.5" y1="261.27" x2="258.5" y2="257.96" stroke="#c9d8ec" stroke-width="0.8"/>
<line x1="256.24" y1="257.5" x2="260.86" y2="257.5" stroke="#c9d8ec" stroke-width="0.8"/>
<line x1="214.5" y1="241.1" x2="214.5" y2="303.8" stroke="#111" stroke-width="0.7"/>
<line x1="214.1" y1="303.5" x2="267.2" y2="303.5" stroke="#111" stroke-width="0.7"/>
<line x1="212.1" y1="303.5" x2="214.4" y2="303.5" stroke="#111" stroke-width="0.6"/>
<text x="211.2" y="305.26" font-size="4.9" text-anchor="end" fill="#111" stroke-width="0.3">0.0</text>
<line x1="212.1" y1="282.5" x2="214.4" y2="282.5" stroke="#111" stroke-width="0.6"/>
<text x="211.2" y="284.56" font-size="4.9" text-anchor="end" fill="#111" stroke-width="0.3">0.5</text>
<line x1="212.1" y1="262.5" x2="214.4" y2="262.5" stroke="#111" stroke-width="0.6"/>
<text x="211.2" y="263.86" font-size="4.9" text-anchor="end" fill="#111" stroke-width="0.3">1.0</text>
<line x1="212.1" y1="241.5" x2="214.4" y2="241.5" stroke="#111" stroke-width="0.6"/>
<text x="211.2" y="243.16" font-size="4.9" text-anchor="end" fill="#111" stroke-width="0.3">1.5</text>
<text x="237.9" y="239" font-size="6.5" text-anchor="middle" fill="#111">BMDMs</text>
<text x="196.78" y="273" font-size="6.6" text-anchor="middle" fill="#111" transform="rotate(-90 196.78 273)" textLength="65.3" lengthAdjust="spacingAndGlyphs">Relative expression of</text>
<text x="203.08" y="273" font-size="6.6" text-anchor="middle" fill="#111" transform="rotate(-90 203.08 273)" textLength="48.2" lengthAdjust="spacingAndGlyphs">p-STAT1/STAT1</text>
<text x="223" y="308.1" font-size="6.7" text-anchor="end" fill="#111" transform="rotate(-33 223 308.1)">Ctrl</text>
<text x="232.1" y="308.1" font-size="6.7" text-anchor="end" fill="#111" transform="rotate(-33 232.1 308.1)">Blank</text>
<text x="241.4" y="308.1" font-size="6.7" text-anchor="end" fill="#111" transform="rotate(-33 241.4 308.1)">sh-NC</text>
<text x="251.1" y="308.1" font-size="6.7" text-anchor="end" fill="#111" transform="rotate(-33 251.1 308.1)">sh#1</text>
<text x="261.6" y="308.1" font-size="6.7" text-anchor="end" fill="#111" transform="rotate(-33 261.6 308.1)">sh#2</text>
<line x1="216.3" y1="317.5" x2="257.2" y2="317.5" stroke="#222" stroke-width="0.6"/>
<text x="241.4" y="324.2" font-size="6.9" text-anchor="middle" fill="#111">IL-4</text>
<rect x="305.55" y="261.83" width="6.8" height="40.87" fill="#000"/>
<line x1="308.5" y1="261.83" x2="308.5" y2="256.93" stroke="#000" stroke-width="0.8"/>
<line x1="306.64" y1="256.5" x2="311.26" y2="256.5" stroke="#000" stroke-width="0.8"/>
<rect x="315.05" y="262.65" width="6.7" height="40.05" fill="#5f5f5f"/>
<line x1="318.5" y1="262.65" x2="318.5" y2="258.56" stroke="#5f5f5f" stroke-width="0.8"/>
<line x1="316.12" y1="258.5" x2="320.68" y2="258.5" stroke="#5f5f5f" stroke-width="0.8"/>
<rect x="324.25" y="260.61" width="6.7" height="42.09" fill="#9a9a9e"/>
<line x1="327.5" y1="260.61" x2="327.5" y2="255.7" stroke="#9a9a9e" stroke-width="0.8"/>
<line x1="325.32" y1="255.5" x2="329.88" y2="255.5" stroke="#9a9a9e" stroke-width="0.8"/>
<rect x="333.45" y="260.2" width="6.8" height="42.5" fill="#d6d6d6"/>
<line x1="336.5" y1="260.2" x2="336.5" y2="256.52" stroke="#d6d6d6" stroke-width="0.8"/>
<line x1="334.54" y1="256.5" x2="339.16" y2="256.5" stroke="#d6d6d6" stroke-width="0.8"/>
<line x1="300.5" y1="241.1" x2="300.5" y2="303" stroke="#111" stroke-width="0.7"/>
<line x1="299.9" y1="302.5" x2="345.7" y2="302.5" stroke="#111" stroke-width="0.7"/>
<line x1="297.9" y1="302.5" x2="300.2" y2="302.5" stroke="#111" stroke-width="0.6"/>
<text x="297" y="304.46" font-size="4.9" text-anchor="end" fill="#111" stroke-width="0.3">0.0</text>
<line x1="297.9" y1="282.5" x2="300.2" y2="282.5" stroke="#111" stroke-width="0.6"/>
<text x="297" y="284.03" font-size="4.9" text-anchor="end" fill="#111" stroke-width="0.3">0.5</text>
<line x1="297.9" y1="261.5" x2="300.2" y2="261.5" stroke="#111" stroke-width="0.6"/>
<text x="297" y="263.6" font-size="4.9" text-anchor="end" fill="#111" stroke-width="0.3">1.0</text>
<line x1="297.9" y1="241.5" x2="300.2" y2="241.5" stroke="#111" stroke-width="0.6"/>
<text x="297" y="243.16" font-size="4.9" text-anchor="end" fill="#111" stroke-width="0.3">1.5</text>
<text x="322" y="239.8" font-size="6.5" text-anchor="middle" fill="#111">BMDMs</text>
<text x="281.78" y="272.5" font-size="6.6" text-anchor="middle" fill="#111" transform="rotate(-90 281.78 272.5)" textLength="64" lengthAdjust="spacingAndGlyphs">Relative expression of</text>
<text x="288.38" y="272.5" font-size="6.6" text-anchor="middle" fill="#111" transform="rotate(-90 288.38 272.5)" textLength="46.7" lengthAdjust="spacingAndGlyphs">p-STAT1/STAT1</text>
<text x="308.9" y="307.3" font-size="6.7" text-anchor="end" fill="#111" transform="rotate(-33 308.9 307.3)">Ctrl</text>
<text x="320.3" y="307.3" font-size="6.7" text-anchor="end" fill="#111" transform="rotate(-33 320.3 307.3)">Blank</text>
<text x="330.8" y="307.3" font-size="6.7" text-anchor="end" fill="#111" transform="rotate(-33 330.8 307.3)">pcDNA3.1</text>
<text x="341.3" y="307.3" font-size="6.7" text-anchor="end" fill="#111" transform="rotate(-33 341.3 307.3)">MM2P</text>
<line x1="300.1" y1="325.5" x2="333.4" y2="325.5" stroke="#222" stroke-width="0.6"/>
<text x="320.8" y="332.2" font-size="6.9" text-anchor="middle" fill="#111">LPS</text>
<rect x="383.85" y="278.36" width="6.4" height="24.64" fill="#000"/>
<line x1="387.5" y1="278.36" x2="387.5" y2="275.4" stroke="#000" stroke-width="0.8"/>
<line x1="384.87" y1="275.5" x2="389.23" y2="275.5" stroke="#000" stroke-width="0.8"/>
<rect x="392.25" y="256.18" width="6.9" height="46.82" fill="#5f5f5f"/>
<line x1="395.5" y1="256.18" x2="395.5" y2="251.26" stroke="#5f5f5f" stroke-width="0.8"/>
<line x1="393.35" y1="251.5" x2="398.05" y2="251.5" stroke="#5f5f5f" stroke-width="0.8"/>
<rect x="401.25" y="252.98" width="6.5" height="50.02" fill="#9a9a9e"/>
<line x1="404.5" y1="252.98" x2="404.5" y2="247.56" stroke="#9a9a9e" stroke-width="0.8"/>
<line x1="402.29" y1="247.5" x2="406.71" y2="247.5" stroke="#9a9a9e" stroke-width="0.8"/>
<rect x="410.45" y="272.69" width="6.4" height="30.31" fill="#d6d6d6"/>
<line x1="413.5" y1="272.69" x2="413.5" y2="267.76" stroke="#d6d6d6" stroke-width="0.8"/>
<line x1="411.47" y1="267.5" x2="415.83" y2="267.5" stroke="#d6d6d6" stroke-width="0.8"/>
<rect x="419.05" y="274.17" width="6.4" height="28.83" fill="#c9d8ec"/>
<line x1="422.5" y1="274.17" x2="422.5" y2="270.72" stroke="#c9d8ec" stroke-width="0.8"/>
<line x1="420.07" y1="270.5" x2="424.43" y2="270.5" stroke="#c9d8ec" stroke-width="0.8"/>
<line x1="378.5" y1="241.1" x2="378.5" y2="303.3" stroke="#111" stroke-width="0.7"/>
<line x1="378.3" y1="303.5" x2="431" y2="303.5" stroke="#111" stroke-width="0.7"/>
<line x1="376.3" y1="303.5" x2="378.6" y2="303.5" stroke="#111" stroke-width="0.6"/>
<text x="375.4" y="304.76" font-size="4.9" text-anchor="end" fill="#111" stroke-width="0.3">0.0</text>
<line x1="376.3" y1="290.5" x2="378.6" y2="290.5" stroke="#111" stroke-width="0.6"/>
<text x="375.4" y="292.44" font-size="4.9" text-anchor="end" fill="#111" stroke-width="0.3">0.5</text>
<line x1="376.3" y1="278.5" x2="378.6" y2="278.5" stroke="#111" stroke-width="0.6"/>
<text x="375.4" y="280.12" font-size="4.9" text-anchor="end" fill="#111" stroke-width="0.3">1.0</text>
<line x1="376.3" y1="266.5" x2="378.6" y2="266.5" stroke="#111" stroke-width="0.6"/>
<text x="375.4" y="267.8" font-size="4.9" text-anchor="end" fill="#111" stroke-width="0.3">1.5</text>
<line x1="376.3" y1="253.5" x2="378.6" y2="253.5" stroke="#111" stroke-width="0.6"/>
<text x="375.4" y="255.48" font-size="4.9" text-anchor="end" fill="#111" stroke-width="0.3">2.0</text>
<line x1="376.3" y1="241.5" x2="378.6" y2="241.5" stroke="#111" stroke-width="0.6"/>
<text x="375.4" y="243.16" font-size="4.9" text-anchor="end" fill="#111" stroke-width="0.3">2.5</text>
<text x="398.6" y="239" font-size="6.5" text-anchor="middle" fill="#111">BMDMs</text>
<text x="359.68" y="273" font-size="6.6" text-anchor="middle" fill="#111" transform="rotate(-90 359.68 273)" textLength="65" lengthAdjust="spacingAndGlyphs">Relative expression of</text>
<text x="366.78" y="273" font-size="6.6" text-anchor="middle" fill="#111" transform="rotate(-90 366.78 273)" textLength="48.2" lengthAdjust="spacingAndGlyphs">p-STAT3/STAT3</text>
<text x="381" y="307.6" font-size="6.7" text-anchor="end" fill="#111" transform="rotate(-33 381 307.6)">Ctrl</text>
<text x="392" y="307.6" font-size="6.7" text-anchor="end" fill="#111" transform="rotate(-33 392 307.6)">Blank</text>
<text x="402" y="307.6" font-size="6.7" text-anchor="end" fill="#111" transform="rotate(-33 402 307.6)">sh-NC</text>
<text x="411.7" y="307.6" font-size="6.7" text-anchor="end" fill="#111" transform="rotate(-33 411.7 307.6)">sh#1</text>
<text x="422.2" y="307.6" font-size="6.7" text-anchor="end" fill="#111" transform="rotate(-33 422.2 307.6)">sh#2</text>
<line x1="376.5" y1="318.8" x2="416.9" y2="318.8" stroke="#aaa" stroke-width="1.2"/>
<text x="401.3" y="324.9" font-size="6.9" text-anchor="middle" fill="#111">IL-4</text>
<line x1="386.9" y1="242.5" x2="416.9" y2="242.5" stroke="#333" stroke-width="0.6"/>
<text x="393.4" y="244.9" font-size="6.6" text-anchor="middle" fill="#111" stroke="#111" stroke-width="0.25">**</text>
<text x="409.8" y="244.9" font-size="6.6" text-anchor="middle" fill="#111" stroke="#111" stroke-width="0.25">**</text>
<line x1="386.5" y1="242.7" x2="386.5" y2="275" stroke="#333" stroke-width="0.6"/>
<line x1="401.5" y1="242.7" x2="401.5" y2="245.3" stroke="#333" stroke-width="0.6"/>
<line x1="394.5" y1="245.5" x2="408.3" y2="245.5" stroke="#333" stroke-width="0.6"/>
<line x1="416.5" y1="242.7" x2="416.5" y2="261.5" stroke="#333" stroke-width="0.6"/>
<line x1="410.9" y1="261.5" x2="424.7" y2="261.5" stroke="#333" stroke-width="0.6"/>
<rect x="469.85" y="262.6" width="6.6" height="40.2" fill="#000"/>
<line x1="473.5" y1="262.6" x2="473.5" y2="257.37" stroke="#000" stroke-width="0.8"/>
<line x1="470.91" y1="257.5" x2="475.39" y2="257.5" stroke="#000" stroke-width="0.8"/>
<rect x="478.75" y="282.7" width="6.7" height="20.1" fill="#5f5f5f"/>
<line x1="482.5" y1="282.7" x2="482.5" y2="279.48" stroke="#5f5f5f" stroke-width="0.8"/>
<line x1="479.82" y1="279.5" x2="484.38" y2="279.5" stroke="#5f5f5f" stroke-width="0.8"/>
<rect x="487.65" y="284.31" width="6.7" height="18.49" fill="#9a9a9e"/>
<line x1="491.5" y1="284.31" x2="491.5" y2="281.9" stroke="#9a9a9e" stroke-width="0.8"/>
<line x1="488.72" y1="281.5" x2="493.28" y2="281.5" stroke="#9a9a9e" stroke-width="0.8"/>
<rect x="496.45" y="264.21" width="6.9" height="38.59" fill="#d6d6d6"/>
<line x1="499.5" y1="264.21" x2="499.5" y2="259.79" stroke="#d6d6d6" stroke-width="0.8"/>
<line x1="497.55" y1="259.5" x2="502.25" y2="259.5" stroke="#d6d6d6" stroke-width="0.8"/>
<line x1="464.5" y1="242.2" x2="464.5" y2="303.1" stroke="#111" stroke-width="0.7"/>
<line x1="464.3" y1="302.5" x2="510.7" y2="302.5" stroke="#111" stroke-width="0.7"/>
<line x1="462.3" y1="302.5" x2="464.6" y2="302.5" stroke="#111" stroke-width="0.6"/>
<text x="461.4" y="304.56" font-size="4.9" text-anchor="end" fill="#111" stroke-width="0.3">0.0</text>
<line x1="462.3" y1="282.5" x2="464.6" y2="282.5" stroke="#111" stroke-width="0.6"/>
<text x="461.4" y="284.46" font-size="4.9" text-anchor="end" fill="#111" stroke-width="0.3">0.5</text>
<line x1="462.3" y1="262.5" x2="464.6" y2="262.5" stroke="#111" stroke-width="0.6"/>
<text x="461.4" y="264.36" font-size="4.9" text-anchor="end" fill="#111" stroke-width="0.3">1.0</text>
<line x1="462.3" y1="242.5" x2="464.6" y2="242.5" stroke="#111" stroke-width="0.6"/>
<text x="461.4" y="244.26" font-size="4.9" text-anchor="end" fill="#111" stroke-width="0.3">1.5</text>
<text x="488.6" y="239" font-size="6.5" text-anchor="middle" fill="#111">BMDMs</text>
<text x="445.18" y="273" font-size="6.6" text-anchor="middle" fill="#111" transform="rotate(-90 445.18 273)" textLength="64.5" lengthAdjust="spacingAndGlyphs">Relative expression of</text>
<text x="451.98" y="273" font-size="6.6" text-anchor="middle" fill="#111" transform="rotate(-90 451.98 273)" textLength="48.2" lengthAdjust="spacingAndGlyphs">p-STAT3/STAT3</text>
<text x="472.1" y="307.4" font-size="6.7" text-anchor="end" fill="#111" transform="rotate(-33 472.1 307.4)">Ctrl</text>
<text x="483" y="307.4" font-size="6.7" text-anchor="end" fill="#111" transform="rotate(-33 483 307.4)">Blank</text>
<text x="494" y="307.4" font-size="6.7" text-anchor="end" fill="#111" transform="rotate(-33 494 307.4)">pcDNA3.1</text>
<text x="504.6" y="307.4" font-size="6.7" text-anchor="end" fill="#111" transform="rotate(-33 504.6 307.4)">MM2P</text>
<line x1="464.2" y1="325" x2="496.7" y2="325" stroke="#aaa" stroke-width="1.2"/>
<text x="483.9" y="331.4" font-size="6.9" text-anchor="middle" fill="#111">LPS</text>
<line x1="472.9" y1="247.5" x2="486.5" y2="247.5" stroke="#333" stroke-width="0.6"/>
<text x="479.4" y="248.8" font-size="6.6" text-anchor="middle" fill="#111" stroke="#111" stroke-width="0.25">**</text>
<line x1="472.5" y1="247.2" x2="472.5" y2="249.8" stroke="#333" stroke-width="0.6"/>
<line x1="486.3" y1="247.2" x2="486.3" y2="277.1" stroke="#666" stroke-width="1.3"/>
<line x1="479.4" y1="277.5" x2="493.8" y2="277.5" stroke="#333" stroke-width="0.6"/>
<line x1="486.5" y1="250.5" x2="499.5" y2="250.5" stroke="#333" stroke-width="0.6"/>
<text x="493" y="251.8" font-size="6.6" text-anchor="middle" fill="#111" stroke="#111" stroke-width="0.25">**</text>
<line x1="499.5" y1="250.3" x2="499.5" y2="252.9" stroke="#333" stroke-width="0.6"/>
<rect x="550.65" y="288.25" width="6.5" height="14.85" fill="#000"/>
<line x1="553.5" y1="288.25" x2="553.5" y2="285.68" stroke="#000" stroke-width="0.8"/>
<line x1="551.69" y1="285.5" x2="556.11" y2="285.5" stroke="#000" stroke-width="0.8"/>
<rect x="559.35" y="262.5" width="6.9" height="40.6" fill="#5f5f5f"/>
<line x1="562.5" y1="262.5" x2="562.5" y2="257.65" stroke="#5f5f5f" stroke-width="0.8"/>
<line x1="560.45" y1="257.5" x2="565.15" y2="257.5" stroke="#5f5f5f" stroke-width="0.8"/>
<rect x="568.15" y="259.92" width="6.8" height="43.18" fill="#9a9a9e"/>
<line x1="571.5" y1="259.92" x2="571.5" y2="254.62" stroke="#9a9a9e" stroke-width="0.8"/>
<line x1="569.24" y1="254.5" x2="573.86" y2="254.5" stroke="#9a9a9e" stroke-width="0.8"/>
<rect x="576.95" y="285.68" width="6.8" height="17.42" fill="#d6d6d6"/>
<line x1="580.5" y1="285.68" x2="580.5" y2="282.65" stroke="#d6d6d6" stroke-width="0.8"/>
<line x1="578.04" y1="282.5" x2="582.66" y2="282.5" stroke="#d6d6d6" stroke-width="0.8"/>
<rect x="585.75" y="284.92" width="6.8" height="18.18" fill="#c9d8ec"/>
<line x1="589.5" y1="284.92" x2="589.5" y2="281.89" stroke="#c9d8ec" stroke-width="0.8"/>
<line x1="586.84" y1="281.5" x2="591.46" y2="281.5" stroke="#c9d8ec" stroke-width="0.8"/>
<line x1="545.5" y1="242.2" x2="545.5" y2="303.4" stroke="#111" stroke-width="0.7"/>
<line x1="545.3" y1="303.5" x2="597.5" y2="303.5" stroke="#111" stroke-width="0.7"/>
<line x1="543.3" y1="303.5" x2="545.6" y2="303.5" stroke="#111" stroke-width="0.6"/>
<text x="542.4" y="304.86" font-size="4.9" text-anchor="end" fill="#111" stroke-width="0.3">0</text>
<line x1="543.3" y1="287.5" x2="545.6" y2="287.5" stroke="#111" stroke-width="0.6"/>
<text x="542.4" y="289.71" font-size="4.9" text-anchor="end" fill="#111" stroke-width="0.3">1</text>
<line x1="543.3" y1="272.5" x2="545.6" y2="272.5" stroke="#111" stroke-width="0.6"/>
<text x="542.4" y="274.56" font-size="4.9" text-anchor="end" fill="#111" stroke-width="0.3">2</text>
<line x1="543.3" y1="257.5" x2="545.6" y2="257.5" stroke="#111" stroke-width="0.6"/>
<text x="542.4" y="259.41" font-size="4.9" text-anchor="end" fill="#111" stroke-width="0.3">3</text>
<line x1="543.3" y1="242.5" x2="545.6" y2="242.5" stroke="#111" stroke-width="0.6"/>
<text x="542.4" y="244.26" font-size="4.9" text-anchor="end" fill="#111" stroke-width="0.3">4</text>
<text x="570.3" y="239" font-size="6.5" text-anchor="middle" fill="#111">BMDMs</text>
<text x="529.68" y="273.2" font-size="6.6" text-anchor="middle" fill="#111" transform="rotate(-90 529.68 273.2)" textLength="64.1" lengthAdjust="spacingAndGlyphs">Relative expression of</text>
<text x="536.78" y="273.2" font-size="6.6" text-anchor="middle" fill="#111" transform="rotate(-90 536.78 273.2)" textLength="48.8" lengthAdjust="spacingAndGlyphs">p-STAT6/STAT6</text>
<text x="551.8" y="307.7" font-size="6.7" text-anchor="end" fill="#111" transform="rotate(-33 551.8 307.7)">Ctrl</text>
<text x="562.7" y="307.7" font-size="6.7" text-anchor="end" fill="#111" transform="rotate(-33 562.7 307.7)">Blank</text>
<text x="572.9" y="307.7" font-size="6.7" text-anchor="end" fill="#111" transform="rotate(-33 572.9 307.7)">sh-NC</text>
<text x="582" y="307.7" font-size="6.7" text-anchor="end" fill="#111" transform="rotate(-33 582 307.7)">sh#1</text>
<text x="592.5" y="307.7" font-size="6.7" text-anchor="end" fill="#111" transform="rotate(-33 592.5 307.7)">sh#2</text>
<line x1="547.1" y1="318.9" x2="587.8" y2="318.9" stroke="#aaa" stroke-width="1.2"/>
<text x="571.5" y="324.9" font-size="6.9" text-anchor="middle" fill="#111">IL-4</text>
<line x1="553.9" y1="250.5" x2="583.4" y2="250.5" stroke="#333" stroke-width="0.6"/>
<text x="560.7" y="251.9" font-size="6.6" text-anchor="middle" fill="#111" stroke="#111" stroke-width="0.25">**</text>
<text x="575.5" y="251.9" font-size="6.6" text-anchor="middle" fill="#111" stroke="#111" stroke-width="0.25">**</text>
<line x1="553.5" y1="250.3" x2="553.5" y2="285" stroke="#333" stroke-width="0.6"/>
<line x1="568.5" y1="250.3" x2="568.5" y2="251.2" stroke="#333" stroke-width="0.6"/>
<line x1="560" y1="251.6" x2="573.5" y2="251.6" stroke="#777" stroke-width="1.3"/>
<line x1="583.5" y1="250.3" x2="583.5" y2="272.7" stroke="#333" stroke-width="0.6"/>
<line x1="576.9" y1="272.7" x2="590.7" y2="272.7" stroke="#999" stroke-width="1.3"/>
<rect x="644.85" y="263" width="6.9" height="40" fill="#000"/>
<line x1="648.5" y1="263" x2="648.5" y2="257.8" stroke="#000" stroke-width="0.8"/>
<line x1="645.95" y1="257.5" x2="650.65" y2="257.5" stroke="#000" stroke-width="0.8"/>
<rect x="654.15" y="286.2" width="6.8" height="16.8" fill="#5f5f5f"/>
<line x1="657.5" y1="286.2" x2="657.5" y2="283.8" stroke="#5f5f5f" stroke-width="0.8"/>
<line x1="655.24" y1="283.5" x2="659.86" y2="283.5" stroke="#5f5f5f" stroke-width="0.8"/>
<rect x="663.25" y="276.6" width="7" height="26.4" fill="#9a9a9e"/>
<line x1="666.5" y1="276.6" x2="666.5" y2="274.2" stroke="#9a9a9e" stroke-width="0.8"/>
<line x1="664.37" y1="274.5" x2="669.13" y2="274.5" stroke="#9a9a9e" stroke-width="0.8"/>
<rect x="672.45" y="267" width="6.9" height="36" fill="#d6d6d6"/>
<line x1="675.5" y1="267" x2="675.5" y2="262.2" stroke="#d6d6d6" stroke-width="0.8"/>
<line x1="673.55" y1="262.5" x2="678.25" y2="262.5" stroke="#d6d6d6" stroke-width="0.8"/>
<line x1="639.5" y1="242.7" x2="639.5" y2="303.3" stroke="#111" stroke-width="0.7"/>
<line x1="639.4" y1="303.5" x2="685" y2="303.5" stroke="#111" stroke-width="0.7"/>
<line x1="637.4" y1="303.5" x2="639.7" y2="303.5" stroke="#111" stroke-width="0.6"/>
<text x="636.5" y="304.76" font-size="4.9" text-anchor="end" fill="#111" stroke-width="0.3">0.0</text>
<line x1="637.4" y1="283.5" x2="639.7" y2="283.5" stroke="#111" stroke-width="0.6"/>
<text x="636.5" y="284.76" font-size="4.9" text-anchor="end" fill="#111" stroke-width="0.3">0.5</text>
<line x1="637.4" y1="263.5" x2="639.7" y2="263.5" stroke="#111" stroke-width="0.6"/>
<text x="636.5" y="264.76" font-size="4.9" text-anchor="end" fill="#111" stroke-width="0.3">1.0</text>
<line x1="637.4" y1="243.5" x2="639.7" y2="243.5" stroke="#111" stroke-width="0.6"/>
<text x="636.5" y="244.76" font-size="4.9" text-anchor="end" fill="#111" stroke-width="0.3">1.5</text>
<text x="657.6" y="238.3" font-size="6.5" text-anchor="middle" fill="#111">BMDMs</text>
<text x="620.88" y="274.5" font-size="6.6" text-anchor="middle" fill="#111" transform="rotate(-90 620.88 274.5)" textLength="65.6" lengthAdjust="spacingAndGlyphs">Relative expression of</text>
<text x="627.78" y="274.5" font-size="6.6" text-anchor="middle" fill="#111" transform="rotate(-90 627.78 274.5)" textLength="48.1" lengthAdjust="spacingAndGlyphs">p-STAT6/STAT6</text>
<text x="649" y="308.4" font-size="6.7" text-anchor="end" fill="#111" transform="rotate(-33 649 308.4)">Ctrl</text>
<text x="661" y="308.4" font-size="6.7" text-anchor="end" fill="#111" transform="rotate(-33 661 308.4)">Blank</text>
<text x="672" y="308.4" font-size="6.7" text-anchor="end" fill="#111" transform="rotate(-33 672 308.4)">pcDNA3.1</text>
<text x="682.6" y="308.4" font-size="6.7" text-anchor="end" fill="#111" transform="rotate(-33 682.6 308.4)">MM2P</text>
<line x1="640.7" y1="324.8" x2="674.1" y2="324.8" stroke="#aaa" stroke-width="1.2"/>
<text x="661" y="331.6" font-size="6.9" text-anchor="middle" fill="#111">LPS</text>
<line x1="647.7" y1="252.5" x2="662" y2="252.5" stroke="#333" stroke-width="0.6"/>
<text x="654.8" y="253.9" font-size="6.6" text-anchor="middle" fill="#111" stroke="#111" stroke-width="0.25">**</text>
<line x1="647.5" y1="252.4" x2="647.5" y2="255" stroke="#333" stroke-width="0.6"/>
<line x1="662" y1="252.4" x2="662" y2="271" stroke="#555" stroke-width="1.3"/>
<line x1="655.4" y1="271" x2="668.5" y2="271" stroke="#999" stroke-width="1.3"/>
<line x1="662" y1="254.5" x2="675.2" y2="254.5" stroke="#333" stroke-width="0.6"/>
<text x="668.6" y="255.7" font-size="6.6" text-anchor="middle" fill="#111" stroke="#111" stroke-width="0.25">**</text>
<line x1="675.2" y1="254.1" x2="675.2" y2="259.9" stroke="#aaa" stroke-width="1.3"/>
<text x="75.4" y="240.8" font-size="6.3" text-anchor="middle" fill="#111">BMDMs</text>
<text x="135.6" y="240.8" font-size="6.3" text-anchor="middle" fill="#111">BMDMs</text>
<rect x="50" y="241.8" width="56" height="10.4" fill="#dadada"/>
<rect x="50" y="271.5" width="56" height="10.5" fill="#ebebeb"/>
<rect x="50" y="302" width="56" height="11" fill="#dadada"/>
<rect x="110" y="302" width="46.2" height="11" fill="#f5f5f5"/>
<g filter="url(#bl)">
<rect x="52.05" y="246.22" width="8.31" height="1.96" rx="0.9" fill="#000" opacity="0.65"/>
<rect x="63.25" y="246.22" width="8.31" height="1.96" rx="0.9" fill="#000" opacity="0.65"/>
<rect x="74.26" y="246.3" width="7.88" height="1.8" rx="0.9" fill="#000" opacity="0.55"/>
<rect x="84.72" y="246.02" width="9.17" height="2.36" rx="0.9" fill="#000" opacity="0.9"/>
<rect x="95.64" y="246.18" width="8.31" height="2.04" rx="0.9" fill="#000" opacity="0.7"/>
<rect x="110.57" y="246.06" width="11.26" height="2.28" rx="0.9" fill="#000" opacity="0.97"/>
<rect x="121.44" y="246.15" width="10.72" height="2.1" rx="0.9" fill="#000" opacity="0.85"/>
<rect x="132.64" y="246.11" width="10.72" height="2.17" rx="0.9" fill="#000" opacity="0.9"/>
<rect x="144.17" y="246.07" width="11.26" height="2.25" rx="0.9" fill="#000" opacity="0.95"/>
<rect x="52.05" y="260.58" width="8.31" height="2.44" rx="0.9" fill="#000" opacity="0.95"/>
<rect x="63.25" y="260.62" width="8.31" height="2.36" rx="0.9" fill="#000" opacity="0.9"/>
<rect x="73.62" y="260.5" width="9.17" height="2.6" rx="0.9" fill="#000" opacity="1"/>
<rect x="85.14" y="260.62" width="8.31" height="2.36" rx="0.9" fill="#000" opacity="0.9"/>
<rect x="95.86" y="260.66" width="7.88" height="2.28" rx="0.9" fill="#000" opacity="0.85"/>
<rect x="110.3" y="260.64" width="11.8" height="2.32" rx="0.9" fill="#000" opacity="1"/>
<rect x="120.9" y="260.64" width="11.8" height="2.32" rx="0.9" fill="#000" opacity="1"/>
<rect x="132.1" y="260.6" width="11.8" height="2.4" rx="0.9" fill="#000" opacity="1"/>
<rect x="143.9" y="260.68" width="11.8" height="2.25" rx="0.9" fill="#000" opacity="0.95"/>
<rect x="53.55" y="276.26" width="5.3" height="1.48" rx="0.9" fill="#000" opacity="0.35"/>
<rect x="62.82" y="275.82" width="9.17" height="2.36" rx="0.9" fill="#000" opacity="0.9"/>
<rect x="73.83" y="275.86" width="8.74" height="2.28" rx="0.9" fill="#000" opacity="0.85"/>
<rect x="86" y="276.14" width="6.59" height="1.72" rx="0.9" fill="#000" opacity="0.5"/>
<rect x="96.94" y="276.26" width="5.73" height="1.48" rx="0.9" fill="#000" opacity="0.35"/>
<rect x="111.65" y="276.1" width="9.1" height="1.8" rx="0.9" fill="#000" opacity="0.65"/>
<rect x="121.17" y="275.95" width="11.26" height="2.1" rx="0.9" fill="#000" opacity="0.85"/>
<rect x="132.37" y="275.91" width="11.26" height="2.17" rx="0.9" fill="#000" opacity="0.9"/>
<rect x="144.98" y="276.06" width="9.64" height="1.88" rx="0.9" fill="#000" opacity="0.7"/>
<rect x="52.26" y="289.68" width="7.88" height="2.44" rx="0.9" fill="#000" opacity="0.95"/>
<rect x="63.68" y="289.84" width="7.45" height="2.12" rx="0.9" fill="#000" opacity="0.75"/>
<rect x="74.26" y="289.76" width="7.88" height="2.28" rx="0.9" fill="#000" opacity="0.85"/>
<rect x="85.36" y="289.76" width="7.88" height="2.28" rx="0.9" fill="#000" opacity="0.85"/>
<rect x="96.08" y="289.8" width="7.45" height="2.2" rx="0.9" fill="#000" opacity="0.8"/>
<rect x="110.3" y="289.77" width="11.8" height="2.25" rx="0.9" fill="#000" opacity="0.95"/>
<rect x="120.9" y="289.77" width="11.8" height="2.25" rx="0.9" fill="#000" opacity="0.95"/>
<rect x="132.1" y="289.77" width="11.8" height="2.25" rx="0.9" fill="#000" opacity="0.95"/>
<rect x="143.9" y="289.77" width="11.8" height="2.25" rx="0.9" fill="#000" opacity="0.95"/>
<rect x="53.12" y="306.86" width="6.16" height="1.48" rx="0.9" fill="#000" opacity="0.35"/>
<rect x="62.6" y="306.34" width="9.6" height="2.52" rx="0.9" fill="#000" opacity="1"/>
<rect x="73.4" y="306.38" width="9.6" height="2.44" rx="0.9" fill="#000" opacity="0.95"/>
<rect x="86.65" y="306.9" width="5.3" height="1.4" rx="0.9" fill="#000" opacity="0.3"/>
<rect x="97.15" y="306.94" width="5.3" height="1.32" rx="0.9" fill="#000" opacity="0.25"/>
<rect x="110.3" y="306.44" width="11.8" height="2.32" rx="0.9" fill="#000" opacity="1"/>
<rect x="121.98" y="306.7" width="9.64" height="1.8" rx="0.9" fill="#000" opacity="0.65"/>
<rect x="133.45" y="306.74" width="9.1" height="1.73" rx="0.9" fill="#000" opacity="0.6"/>
<rect x="144.44" y="306.48" width="10.72" height="2.25" rx="0.9" fill="#000" opacity="0.95"/>
<rect x="53.55" y="324.26" width="5.3" height="1.29" rx="0.9" fill="#000" opacity="0.23"/>
<rect x="63.03" y="323.84" width="8.74" height="2.12" rx="0.9" fill="#000" opacity="0.75"/>
<rect x="73.62" y="323.76" width="9.17" height="2.28" rx="0.9" fill="#000" opacity="0.85"/>
<rect x="84.5" y="323.72" width="9.6" height="2.36" rx="0.9" fill="#000" opacity="0.9"/>
<rect x="95.22" y="323.76" width="9.17" height="2.28" rx="0.9" fill="#000" opacity="0.85"/>
<rect x="110.3" y="323.74" width="11.8" height="2.32" rx="0.9" fill="#000" opacity="1"/>
<rect x="123.06" y="324.19" width="7.48" height="1.42" rx="0.9" fill="#000" opacity="0.4"/>
<rect x="133.45" y="324" width="9.1" height="1.8" rx="0.9" fill="#000" opacity="0.65"/>
<rect x="144.44" y="323.85" width="10.72" height="2.1" rx="0.9" fill="#000" opacity="0.85"/>
<rect x="51.83" y="338.68" width="8.74" height="2.04" rx="0.9" fill="#000" opacity="0.7"/>
<rect x="63.03" y="338.68" width="8.74" height="2.04" rx="0.9" fill="#000" opacity="0.7"/>
<rect x="73.62" y="338.64" width="9.17" height="2.12" rx="0.9" fill="#000" opacity="0.75"/>
<rect x="84.72" y="338.64" width="9.17" height="2.12" rx="0.9" fill="#000" opacity="0.75"/>
<rect x="95.43" y="338.68" width="8.74" height="2.04" rx="0.9" fill="#000" opacity="0.7"/>
<rect x="110.3" y="338.65" width="11.8" height="2.1" rx="0.9" fill="#000" opacity="0.85"/>
<rect x="120.9" y="338.65" width="11.8" height="2.1" rx="0.9" fill="#000" opacity="0.85"/>
<rect x="132.1" y="338.65" width="11.8" height="2.1" rx="0.9" fill="#000" opacity="0.85"/>
<rect x="144.17" y="338.69" width="11.26" height="2.02" rx="0.9" fill="#000" opacity="0.8"/>
<rect x="51.62" y="355.56" width="9.17" height="3.08" rx="0.9" fill="#000" opacity="1"/>
<rect x="63.03" y="355.64" width="8.74" height="2.92" rx="0.9" fill="#000" opacity="1"/>
<rect x="73.62" y="355.6" width="9.17" height="3" rx="0.9" fill="#000" opacity="1"/>
<rect x="84.93" y="355.64" width="8.74" height="2.92" rx="0.9" fill="#000" opacity="1"/>
<rect x="95.43" y="355.64" width="8.74" height="2.92" rx="0.9" fill="#000" opacity="1"/>
<rect x="110.3" y="355.68" width="11.8" height="2.85" rx="0.9" fill="#000" opacity="1"/>
<rect x="120.9" y="355.68" width="11.8" height="2.85" rx="0.9" fill="#000" opacity="1"/>
<rect x="132.1" y="355.68" width="11.8" height="2.85" rx="0.9" fill="#000" opacity="1"/>
<rect x="143.9" y="355.68" width="11.8" height="2.85" rx="0.9" fill="#000" opacity="1"/>
</g>
<text x="48.2" y="249.75" font-size="6.8" text-anchor="end" fill="#111">p-STAT1</text>
<text x="160.6" y="249.6" font-size="6.6" text-anchor="start" fill="#111">87kDa</text>
<text x="48.2" y="264.45" font-size="6.8" text-anchor="end" fill="#111">STAT1</text>
<text x="160.6" y="264" font-size="6.6" text-anchor="start" fill="#111">91kDa</text>
<text x="48.2" y="278.95" font-size="6.8" text-anchor="end" fill="#111">p-STAT6</text>
<text x="160.6" y="278.5" font-size="6.6" text-anchor="start" fill="#111">94kDa</text>
<text x="48.2" y="293.75" font-size="6.8" text-anchor="end" fill="#111">STAT6</text>
<text x="160.6" y="295.2" font-size="6.6" text-anchor="start" fill="#111">100kDa</text>
<text x="48.2" y="309.95" font-size="6.8" text-anchor="end" fill="#111">p-STAT3(Y705)</text>
<text x="160.6" y="309.9" font-size="6.6" text-anchor="start" fill="#111">88kDa</text>
<text x="48.2" y="327.65" font-size="6.8" text-anchor="end" fill="#111">p-STAT3(S727)</text>
<text x="160.6" y="327.9" font-size="6.6" text-anchor="start" fill="#111">98kDa</text>
<text x="48.2" y="344.75" font-size="6.8" text-anchor="end" fill="#111">STAT3</text>
<text x="160.6" y="345.5" font-size="6.6" text-anchor="start" fill="#111">88kDa</text>
<text x="48.2" y="358.55" font-size="6.8" text-anchor="end" fill="#111">GAPDH</text>
<text x="160.6" y="358.9" font-size="6.6" text-anchor="start" fill="#111">36kDa</text>
<text x="58.9" y="370.8" font-size="6.8" text-anchor="end" fill="#111" transform="rotate(-30 58.9 370.8)">Ctrl</text>
<text x="70.2" y="370.8" font-size="6.8" text-anchor="end" fill="#111" transform="rotate(-30 70.2 370.8)">Blank</text>
<text x="80.7" y="370.8" font-size="6.8" text-anchor="end" fill="#111" transform="rotate(-30 80.7 370.8)">sh-NC</text>
<text x="90.9" y="370.8" font-size="6.8" text-anchor="end" fill="#111" transform="rotate(-30 90.9 370.8)">sh#1</text>
<text x="101.4" y="370.8" font-size="6.8" text-anchor="end" fill="#111" transform="rotate(-30 101.4 370.8)">sh#2</text>
<line x1="58.4" y1="379.5" x2="98.8" y2="379.5" stroke="#333" stroke-width="0.6"/>
<text x="78.6" y="385" font-size="6.5" text-anchor="middle" fill="#111">IL-4</text>
<text x="118.1" y="370.8" font-size="6.8" text-anchor="end" fill="#111" transform="rotate(-30 118.1 370.8)">Ctrl</text>
<text x="128.6" y="370.8" font-size="6.8" text-anchor="end" fill="#111" transform="rotate(-30 128.6 370.8)">Blank</text>
<text x="141.8" y="370.8" font-size="6.8" text-anchor="end" fill="#111" transform="rotate(-30 141.8 370.8)">pcDNA3.1</text>
<text x="154.9" y="370.8" font-size="6.8" text-anchor="end" fill="#111" transform="rotate(-30 154.9 370.8)">MM2P</text>
<line x1="112.8" y1="386.5" x2="146.1" y2="386.5" stroke="#333" stroke-width="0.6"/>
<text x="129.1" y="392.7" font-size="6.5" text-anchor="middle" fill="#111">LPS</text>
</svg>
</body></html>
